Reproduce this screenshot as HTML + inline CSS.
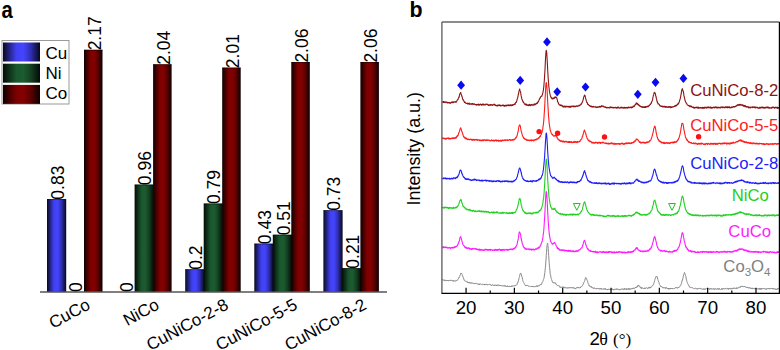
<!DOCTYPE html>
<html><head><meta charset="utf-8"><style>
html,body{margin:0;padding:0;background:#fff;width:780px;height:350px;overflow:hidden}
svg{display:block}
text{font-family:"Liberation Sans",sans-serif}
.serif{font-family:"Liberation Serif",serif}
.lab{font-size:23px;font-weight:bold}
.val{font-size:17.5px}
.cat{font-size:17px}
.leg{font-size:17px}
.tick{font-size:18.7px}
.ylab{font-size:17.9px}
.xlab{font-size:18.8px}
.rl{font-size:16.7px}
</style></head><body>
<svg width="780" height="350" viewBox="0 0 780 350">
<defs>
<linearGradient id="gCu" x1="0" x2="1" y1="0" y2="0"><stop offset="0" stop-color="#08081e"/><stop offset="0.16" stop-color="#22227f"/><stop offset="0.36" stop-color="#4040f2"/><stop offset="0.55" stop-color="#4444ff"/><stop offset="0.74" stop-color="#3030b7"/><stop offset="0.94" stop-color="#11113f"/><stop offset="1" stop-color="#060619"/></linearGradient>
<linearGradient id="gNi" x1="0" x2="1" y1="0" y2="0"><stop offset="0" stop-color="#030b05"/><stop offset="0.16" stop-color="#0e2e18"/><stop offset="0.36" stop-color="#1a572d"/><stop offset="0.55" stop-color="#1c5c30"/><stop offset="0.74" stop-color="#144222"/><stop offset="0.94" stop-color="#07170c"/><stop offset="1" stop-color="#020904"/></linearGradient>
<linearGradient id="gCo" x1="0" x2="1" y1="0" y2="0"><stop offset="0" stop-color="#0f0000"/><stop offset="0.16" stop-color="#420000"/><stop offset="0.36" stop-color="#7d0000"/><stop offset="0.55" stop-color="#840000"/><stop offset="0.74" stop-color="#5f0000"/><stop offset="0.94" stop-color="#210000"/><stop offset="1" stop-color="#0d0000"/></linearGradient>
</defs>
<text transform="translate(1.5,17.6) scale(0.88,1.0)" class="lab">a</text>
<rect x="47.00" y="199.04" width="19.20" height="92.46" fill="url(#gCu)"/>
<rect x="47.00" y="199.04" width="18.50" height="0.9" fill="#000" fill-opacity="0.45"/>
<text transform="translate(63.75,199.64) rotate(-90)" class="val">0.83</text>
<text transform="translate(82.25,292.10) rotate(-90)" class="val">0</text>
<rect x="84.00" y="49.76" width="18.50" height="241.74" fill="url(#gCo)"/>
<rect x="84.00" y="49.76" width="18.50" height="0.9" fill="#000" fill-opacity="0.45"/>
<text transform="translate(100.75,50.36) rotate(-90)" class="val">2.17</text>
<text transform="translate(91.25,308.2) rotate(-28.5)" class="cat" text-anchor="end">CuCo</text>
<text transform="translate(132.85,292.10) rotate(-90)" class="val">0</text>
<rect x="134.60" y="184.56" width="19.20" height="106.94" fill="url(#gNi)"/>
<rect x="134.60" y="184.56" width="18.50" height="0.9" fill="#000" fill-opacity="0.45"/>
<text transform="translate(151.35,185.16) rotate(-90)" class="val">0.96</text>
<rect x="153.10" y="64.24" width="18.50" height="227.26" fill="url(#gCo)"/>
<rect x="153.10" y="64.24" width="18.50" height="0.9" fill="#000" fill-opacity="0.45"/>
<text transform="translate(169.85,64.84) rotate(-90)" class="val">2.04</text>
<text transform="translate(160.35,308.2) rotate(-28.5)" class="cat" text-anchor="end">NiCo</text>
<rect x="185.20" y="269.22" width="19.20" height="22.28" fill="url(#gCu)"/>
<rect x="185.20" y="269.22" width="18.50" height="0.9" fill="#000" fill-opacity="0.45"/>
<text transform="translate(201.95,269.82) rotate(-90)" class="val">0.2</text>
<rect x="203.70" y="203.49" width="19.20" height="88.01" fill="url(#gNi)"/>
<rect x="203.70" y="203.49" width="18.50" height="0.9" fill="#000" fill-opacity="0.45"/>
<text transform="translate(220.45,204.09) rotate(-90)" class="val">0.79</text>
<rect x="222.20" y="67.59" width="18.50" height="223.91" fill="url(#gCo)"/>
<rect x="222.20" y="67.59" width="18.50" height="0.9" fill="#000" fill-opacity="0.45"/>
<text transform="translate(238.95,68.19) rotate(-90)" class="val">2.01</text>
<text transform="translate(229.45,308.2) rotate(-28.5)" class="cat" text-anchor="end">CuNiCo-2-8</text>
<rect x="254.30" y="243.60" width="19.20" height="47.90" fill="url(#gCu)"/>
<rect x="254.30" y="243.60" width="18.50" height="0.9" fill="#000" fill-opacity="0.45"/>
<text transform="translate(271.05,244.20) rotate(-90)" class="val">0.43</text>
<rect x="272.80" y="234.69" width="19.20" height="56.81" fill="url(#gNi)"/>
<rect x="272.80" y="234.69" width="18.50" height="0.9" fill="#000" fill-opacity="0.45"/>
<text transform="translate(289.55,235.29) rotate(-90)" class="val">0.51</text>
<rect x="291.30" y="62.02" width="18.50" height="229.48" fill="url(#gCo)"/>
<rect x="291.30" y="62.02" width="18.50" height="0.9" fill="#000" fill-opacity="0.45"/>
<text transform="translate(308.05,62.62) rotate(-90)" class="val">2.06</text>
<text transform="translate(298.55,308.2) rotate(-28.5)" class="cat" text-anchor="end">CuNiCo-5-5</text>
<rect x="323.40" y="210.18" width="19.20" height="81.32" fill="url(#gCu)"/>
<rect x="323.40" y="210.18" width="18.50" height="0.9" fill="#000" fill-opacity="0.45"/>
<text transform="translate(340.15,210.78) rotate(-90)" class="val">0.73</text>
<rect x="341.90" y="268.11" width="19.20" height="23.39" fill="url(#gNi)"/>
<rect x="341.90" y="268.11" width="18.50" height="0.9" fill="#000" fill-opacity="0.45"/>
<text transform="translate(358.65,268.71) rotate(-90)" class="val">0.21</text>
<rect x="360.40" y="62.02" width="18.50" height="229.48" fill="url(#gCo)"/>
<rect x="360.40" y="62.02" width="18.50" height="0.9" fill="#000" fill-opacity="0.45"/>
<text transform="translate(377.15,62.62) rotate(-90)" class="val">2.06</text>
<text transform="translate(367.65,308.2) rotate(-28.5)" class="cat" text-anchor="end">CuNiCo-8-2</text>
<line x1="40" y1="292.00" x2="387" y2="292.00" stroke="#000" stroke-width="1.2"/>
<rect x="2" y="40.5" width="67" height="63.5" fill="#fff" stroke="#999" stroke-width="1"/>
<rect x="3" y="42.50" width="37" height="19" fill="url(#gCu)"/>
<text x="45.5" y="58.60" class="leg">Cu</text>
<rect x="3" y="63.70" width="37" height="19" fill="url(#gNi)"/>
<text x="45.5" y="79.00" class="leg">Ni</text>
<rect x="3" y="84.90" width="37" height="19" fill="url(#gCo)"/>
<text x="45.5" y="99.10" class="leg">Co</text>
<polyline fill="none" stroke="#8c1414" stroke-width="1.1" stroke-linejoin="round" points="441.90,101.80 442.14,101.80 442.38,102.14 442.62,102.15 442.87,101.94 443.11,101.47 443.35,102.32 443.59,101.59 443.83,102.51 444.07,102.00 444.32,101.83 444.56,102.25 444.80,101.93 445.04,102.65 445.28,102.31 445.52,102.17 445.77,101.88 446.01,101.90 446.25,102.26 446.49,102.39 446.73,102.10 446.97,102.68 447.22,102.47 447.46,102.83 447.70,102.29 447.94,102.29 448.18,102.94 448.42,102.51 448.66,102.55 448.91,102.58 449.15,102.44 449.39,102.82 449.63,102.68 449.87,103.32 450.11,102.96 450.36,102.82 450.60,103.19 450.84,102.52 451.08,102.87 451.32,102.45 451.56,101.96 451.81,102.54 452.05,101.87 452.29,102.57 452.53,102.00 452.77,102.55 453.01,102.69 453.26,102.12 453.50,102.60 453.74,101.97 453.98,101.92 454.22,102.09 454.46,101.87 454.70,101.84 454.95,101.95 455.19,102.23 455.43,102.09 455.67,101.46 455.91,102.30 456.15,102.31 456.40,101.65 456.64,101.57 456.88,100.59 457.12,100.38 457.36,99.96 457.60,99.61 457.85,99.39 458.09,99.41 458.33,98.24 458.57,97.86 458.81,96.99 459.05,97.42 459.30,96.10 459.54,94.76 459.78,94.14 460.02,93.50 460.26,93.69 460.50,92.58 460.74,92.51 460.99,93.90 461.23,94.30 461.47,94.58 461.71,95.74 461.95,96.63 462.19,96.79 462.44,98.53 462.68,99.16 462.92,99.80 463.16,99.97 463.40,99.84 463.64,100.36 463.89,101.11 464.13,101.34 464.37,102.37 464.61,102.06 464.85,101.97 465.09,101.99 465.34,102.96 465.58,102.75 465.82,103.26 466.06,103.04 466.30,103.42 466.54,103.24 466.78,103.52 467.03,103.54 467.27,103.33 467.51,103.94 467.75,103.21 467.99,103.09 468.23,104.01 468.48,103.93 468.72,103.96 468.96,103.80 469.20,103.11 469.44,104.03 469.68,104.37 469.93,104.30 470.17,103.71 470.41,103.72 470.65,103.97 470.89,103.74 471.13,104.20 471.38,103.71 471.62,104.30 471.86,104.34 472.10,103.97 472.34,103.47 472.58,103.67 472.82,104.21 473.07,103.80 473.31,104.06 473.55,104.01 473.79,104.38 474.03,104.05 474.27,103.71 474.52,104.14 474.76,104.49 475.00,104.34 475.24,104.47 475.48,104.69 475.72,104.51 475.97,104.96 476.21,104.97 476.45,104.45 476.69,105.21 476.93,104.42 477.17,104.59 477.42,104.21 477.66,104.55 477.90,104.94 478.14,104.64 478.38,104.11 478.62,105.18 478.86,105.07 479.11,104.54 479.35,105.12 479.59,104.55 479.83,104.47 480.07,104.36 480.31,104.14 480.56,104.64 480.80,104.36 481.04,104.64 481.28,105.03 481.52,105.17 481.76,104.27 482.01,104.72 482.25,103.99 482.49,104.89 482.73,104.35 482.97,104.99 483.21,104.83 483.46,104.02 483.70,104.55 483.94,105.01 484.18,104.97 484.42,104.92 484.66,104.84 484.90,104.33 485.15,105.06 485.39,104.16 485.63,104.36 485.87,104.18 486.11,104.14 486.35,104.27 486.60,104.43 486.84,104.36 487.08,104.18 487.32,104.14 487.56,104.88 487.80,104.72 488.05,104.52 488.29,105.02 488.53,105.46 488.77,105.07 489.01,105.67 489.25,105.45 489.50,105.32 489.74,104.97 489.98,104.57 490.22,105.12 490.46,104.45 490.70,105.10 490.94,105.12 491.19,104.61 491.43,104.83 491.67,104.74 491.91,105.29 492.15,105.07 492.39,105.48 492.64,104.79 492.88,104.68 493.12,104.88 493.36,104.84 493.60,104.46 493.84,104.55 494.09,104.07 494.33,104.34 494.57,104.80 494.81,105.12 495.05,105.50 495.29,104.90 495.54,104.92 495.78,105.55 496.02,105.60 496.26,105.53 496.50,105.82 496.74,105.36 496.98,105.72 497.23,105.83 497.47,105.92 497.71,105.76 497.95,104.92 498.19,105.15 498.43,105.55 498.68,105.38 498.92,105.52 499.16,104.79 499.40,105.74 499.64,105.51 499.88,105.05 500.13,105.33 500.37,105.18 500.61,105.20 500.85,106.13 501.09,105.46 501.33,105.77 501.58,105.79 501.82,105.22 502.06,105.27 502.30,105.41 502.54,105.09 502.78,105.20 503.02,105.74 503.27,105.36 503.51,105.55 503.75,105.15 503.99,105.37 504.23,106.33 504.47,105.58 504.72,106.24 504.96,105.43 505.20,106.04 505.44,105.53 505.68,105.35 505.92,105.11 506.17,105.64 506.41,105.97 506.65,106.05 506.89,105.07 507.13,105.38 507.37,105.17 507.62,105.10 507.86,105.60 508.10,105.35 508.34,104.83 508.58,105.66 508.82,105.33 509.06,105.37 509.31,105.74 509.55,105.46 509.79,104.92 510.03,105.62 510.27,105.64 510.51,104.82 510.76,104.74 511.00,105.54 511.24,105.52 511.48,105.65 511.72,105.36 511.96,104.82 512.21,105.26 512.45,105.47 512.69,104.62 512.93,104.77 513.17,104.87 513.41,105.10 513.66,104.63 513.90,104.58 514.14,104.53 514.38,103.97 514.62,104.51 514.86,103.56 515.10,104.35 515.35,103.12 515.59,102.66 515.83,102.28 516.07,102.00 516.31,102.30 516.55,101.38 516.80,100.87 517.04,99.94 517.28,98.94 517.52,98.06 517.76,97.59 518.00,96.12 518.25,94.81 518.49,93.66 518.73,92.95 518.97,90.92 519.21,90.46 519.45,89.67 519.70,88.94 519.94,90.17 520.18,90.90 520.42,91.41 520.66,92.36 520.90,94.25 521.14,95.74 521.39,97.03 521.63,97.86 521.87,98.92 522.11,99.86 522.35,100.02 522.59,100.50 522.84,101.63 523.08,101.31 523.32,102.33 523.56,102.29 523.80,102.43 524.04,103.14 524.29,103.76 524.53,103.92 524.77,103.72 525.01,104.54 525.25,103.82 525.49,104.64 525.74,104.25 525.98,105.13 526.22,104.12 526.46,104.56 526.70,104.45 526.94,105.21 527.18,104.66 527.43,104.97 527.67,105.00 527.91,105.47 528.15,105.60 528.39,104.77 528.63,104.94 528.88,105.60 529.12,104.88 529.36,105.44 529.60,104.33 529.84,104.59 530.08,105.34 530.33,105.57 530.57,105.00 530.81,105.53 531.05,104.62 531.29,105.04 531.53,104.91 531.78,104.40 532.02,104.69 532.26,104.60 532.50,104.82 532.74,105.38 532.98,105.01 533.22,104.82 533.47,105.21 533.71,104.44 533.95,104.18 534.19,104.93 534.43,104.11 534.67,103.87 534.92,104.17 535.16,104.85 535.40,103.97 535.64,104.39 535.88,104.24 536.12,103.53 536.37,103.71 536.61,103.56 536.85,102.84 537.09,102.98 537.33,103.41 537.57,102.27 537.82,102.17 538.06,101.61 538.30,101.90 538.54,101.58 538.78,100.61 539.02,100.03 539.26,99.28 539.51,99.36 539.75,98.00 539.99,97.92 540.23,97.97 540.47,97.83 540.71,96.51 540.96,96.62 541.20,96.48 541.44,96.14 541.68,96.22 541.92,96.14 542.16,94.91 542.41,94.57 542.65,93.84 542.89,92.68 543.13,91.33 543.37,90.33 543.61,87.86 543.86,86.29 544.10,82.78 544.34,80.22 544.58,76.14 544.82,72.78 545.06,68.47 545.30,62.86 545.55,57.96 545.79,54.51 546.03,51.48 546.27,50.33 546.51,51.10 546.75,52.81 547.00,57.02 547.24,61.06 547.48,65.46 547.72,70.44 547.96,74.37 548.20,78.19 548.45,81.50 548.69,84.38 548.93,87.36 549.17,88.82 549.41,91.07 549.65,92.12 549.90,93.91 550.14,94.48 550.38,96.03 550.62,96.28 550.86,96.68 551.10,97.96 551.34,97.42 551.59,97.82 551.83,98.65 552.07,98.72 552.31,98.89 552.55,98.18 552.79,98.47 553.04,98.93 553.28,98.43 553.52,98.21 553.76,97.76 554.00,98.39 554.24,97.65 554.49,98.18 554.73,97.00 554.97,97.98 555.21,96.82 555.45,97.23 555.69,97.53 555.94,97.06 556.18,97.19 556.42,97.84 556.66,97.56 556.90,98.41 557.14,99.35 557.38,100.05 557.63,101.77 557.87,102.03 558.11,102.24 558.35,103.00 558.59,103.95 558.83,104.08 559.08,104.63 559.32,104.92 559.56,104.86 559.80,105.06 560.04,104.80 560.28,105.64 560.53,105.08 560.77,105.09 561.01,105.41 561.25,105.38 561.49,105.05 561.73,105.25 561.98,106.18 562.22,105.45 562.46,105.86 562.70,105.81 562.94,106.90 563.18,106.79 563.42,106.86 563.67,106.84 563.91,106.13 564.15,107.07 564.39,106.26 564.63,106.15 564.87,106.42 565.12,106.36 565.36,107.19 565.60,106.33 565.84,106.39 566.08,106.07 566.32,106.80 566.57,106.86 566.81,106.65 567.05,106.27 567.29,106.19 567.53,106.59 567.77,106.99 568.02,106.98 568.26,106.40 568.50,106.39 568.74,106.91 568.98,107.05 569.22,106.37 569.46,106.31 569.71,106.63 569.95,107.45 570.19,107.10 570.43,106.27 570.67,106.24 570.91,106.61 571.16,107.12 571.40,106.25 571.64,106.10 571.88,106.30 572.12,106.19 572.36,106.39 572.61,106.06 572.85,106.44 573.09,106.84 573.33,105.93 573.57,106.36 573.81,106.72 574.06,106.14 574.30,106.41 574.54,106.15 574.78,106.34 575.02,106.83 575.26,106.91 575.50,106.34 575.75,105.99 575.99,106.44 576.23,106.05 576.47,105.80 576.71,106.21 576.95,106.26 577.20,105.86 577.44,105.91 577.68,106.37 577.92,106.27 578.16,106.19 578.40,105.84 578.65,105.86 578.89,105.30 579.13,105.05 579.37,105.69 579.61,105.77 579.85,105.08 580.10,105.12 580.34,105.12 580.58,104.93 580.82,104.36 581.06,103.94 581.30,103.70 581.54,104.14 581.79,103.04 582.03,102.60 582.27,102.48 582.51,101.57 582.75,101.15 582.99,100.13 583.24,99.33 583.48,98.27 583.72,97.01 583.96,96.55 584.20,96.24 584.44,94.96 584.69,95.95 584.93,95.46 585.17,95.85 585.41,97.41 585.65,98.50 585.89,99.09 586.14,100.18 586.38,101.22 586.62,101.78 586.86,102.71 587.10,102.34 587.34,102.56 587.58,104.03 587.83,104.50 588.07,104.30 588.31,104.25 588.55,104.73 588.79,105.14 589.03,104.99 589.28,105.63 589.52,105.34 589.76,105.88 590.00,106.27 590.24,105.97 590.48,106.45 590.73,106.43 590.97,106.00 591.21,106.08 591.45,106.35 591.69,106.24 591.93,107.25 592.18,106.57 592.42,106.97 592.66,106.59 592.90,106.97 593.14,107.08 593.38,106.27 593.62,106.74 593.87,106.80 594.11,106.89 594.35,107.05 594.59,106.68 594.83,106.73 595.07,106.58 595.32,106.67 595.56,106.83 595.80,107.25 596.04,107.61 596.28,107.05 596.52,107.39 596.77,107.37 597.01,106.95 597.25,107.40 597.49,107.36 597.73,106.90 597.97,107.17 598.22,106.90 598.46,106.80 598.70,106.74 598.94,107.40 599.18,106.49 599.42,106.58 599.66,106.39 599.91,106.34 600.15,107.08 600.39,107.14 600.63,106.31 600.87,106.90 601.11,106.52 601.36,106.55 601.60,105.87 601.84,105.60 602.08,106.37 602.32,106.11 602.56,106.11 602.81,106.14 603.05,106.32 603.29,106.20 603.53,106.65 603.77,106.13 604.01,107.02 604.26,107.01 604.50,107.18 604.74,107.03 604.98,107.20 605.22,106.88 605.46,107.38 605.70,106.97 605.95,107.21 606.19,107.24 606.43,107.91 606.67,107.51 606.91,107.36 607.15,108.02 607.40,107.39 607.64,107.57 607.88,107.50 608.12,107.44 608.36,107.66 608.60,107.61 608.85,107.63 609.09,108.08 609.33,107.70 609.57,107.78 609.81,107.92 610.05,106.90 610.30,107.24 610.54,107.15 610.78,107.50 611.02,107.04 611.26,107.53 611.50,107.52 611.74,107.76 611.99,107.12 612.23,107.65 612.47,107.66 612.71,107.61 612.95,107.98 613.19,107.61 613.44,107.96 613.68,107.40 613.92,107.25 614.16,107.63 614.40,107.65 614.64,107.57 614.89,107.45 615.13,107.86 615.37,107.27 615.61,107.49 615.85,107.67 616.09,107.46 616.34,108.18 616.58,107.98 616.82,108.10 617.06,108.01 617.30,107.18 617.54,108.04 617.78,107.35 618.03,107.11 618.27,107.74 618.51,107.05 618.75,107.94 618.99,107.95 619.23,107.90 619.48,108.10 619.72,108.16 619.96,107.88 620.20,107.95 620.44,108.09 620.68,107.44 620.93,107.21 621.17,107.13 621.41,107.23 621.65,107.63 621.89,108.05 622.13,107.86 622.38,107.57 622.62,107.96 622.86,107.47 623.10,107.28 623.34,107.93 623.58,107.72 623.82,108.15 624.07,108.14 624.31,107.60 624.55,107.25 624.79,107.96 625.03,108.14 625.27,107.64 625.52,107.97 625.76,107.49 626.00,107.59 626.24,107.43 626.48,107.66 626.72,107.48 626.97,108.23 627.21,108.06 627.45,107.44 627.69,107.65 627.93,107.90 628.17,107.65 628.42,107.60 628.66,107.15 628.90,106.86 629.14,107.50 629.38,107.75 629.62,107.68 629.86,107.70 630.11,107.69 630.35,107.28 630.59,107.54 630.83,107.17 631.07,106.90 631.31,107.90 631.56,107.28 631.80,107.76 632.04,107.10 632.28,107.09 632.52,106.94 632.76,107.44 633.01,106.76 633.25,106.00 633.49,106.52 633.73,106.39 633.97,105.98 634.21,106.44 634.46,105.91 634.70,105.22 634.94,105.13 635.18,104.49 635.42,104.77 635.66,104.68 635.90,104.19 636.15,102.93 636.39,103.14 636.63,103.09 636.87,103.57 637.11,103.85 637.35,103.26 637.60,104.22 637.84,104.71 638.08,104.93 638.32,104.26 638.56,105.06 638.80,104.83 639.05,105.71 639.29,105.96 639.53,105.28 639.77,105.99 640.01,106.25 640.25,106.41 640.50,106.34 640.74,106.27 640.98,106.74 641.22,106.99 641.46,106.53 641.70,107.17 641.94,107.14 642.19,106.87 642.43,107.33 642.67,106.80 642.91,107.41 643.15,107.14 643.39,107.41 643.64,106.85 643.88,106.62 644.12,106.95 644.36,107.39 644.60,107.15 644.84,107.30 645.09,106.65 645.33,107.33 645.57,107.46 645.81,106.44 646.05,107.18 646.29,106.97 646.54,106.51 646.78,106.96 647.02,106.35 647.26,106.78 647.50,106.49 647.74,106.63 647.98,106.01 648.23,106.67 648.47,106.27 648.71,106.19 648.95,105.48 649.19,105.77 649.43,105.41 649.68,105.14 649.92,104.29 650.16,104.62 650.40,104.47 650.64,103.75 650.88,103.61 651.13,102.83 651.37,103.23 651.61,102.27 651.85,101.40 652.09,100.95 652.33,100.66 652.58,100.05 652.82,97.91 653.06,96.88 653.30,95.49 653.54,95.35 653.78,94.43 654.02,92.79 654.27,92.59 654.51,92.78 654.75,92.34 654.99,93.26 655.23,93.42 655.47,94.06 655.72,96.18 655.96,96.09 656.20,97.42 656.44,99.20 656.68,99.31 656.92,100.97 657.17,102.06 657.41,101.62 657.65,103.18 657.89,103.05 658.13,104.03 658.37,103.78 658.62,103.83 658.86,104.19 659.10,104.35 659.34,104.54 659.58,105.03 659.82,105.85 660.06,105.94 660.31,106.21 660.55,105.73 660.79,106.26 661.03,106.20 661.27,105.97 661.51,106.34 661.76,106.10 662.00,105.96 662.24,106.66 662.48,106.93 662.72,106.41 662.96,106.20 663.21,106.48 663.45,106.59 663.69,107.04 663.93,107.05 664.17,106.88 664.41,106.29 664.66,106.43 664.90,106.32 665.14,107.21 665.38,107.38 665.62,106.57 665.86,106.50 666.10,106.86 666.35,106.74 666.59,107.18 666.83,106.65 667.07,107.33 667.31,107.09 667.55,106.99 667.80,106.90 668.04,107.45 668.28,106.89 668.52,106.60 668.76,107.09 669.00,106.68 669.25,107.28 669.49,107.25 669.73,106.56 669.97,107.01 670.21,106.68 670.45,107.07 670.70,107.73 670.94,106.73 671.18,107.32 671.42,107.15 671.66,107.57 671.90,106.72 672.14,107.09 672.39,106.79 672.63,106.74 672.87,106.80 673.11,107.08 673.35,106.81 673.59,106.79 673.84,106.73 674.08,106.47 674.32,106.46 674.56,105.86 674.80,106.19 675.04,105.84 675.29,106.45 675.53,105.40 675.77,105.52 676.01,105.69 676.25,105.55 676.49,105.05 676.74,105.71 676.98,104.70 677.22,104.93 677.46,104.22 677.70,103.97 677.94,104.52 678.18,103.76 678.43,103.04 678.67,103.58 678.91,102.45 679.15,102.11 679.39,101.85 679.63,100.52 679.88,99.54 680.12,99.26 680.36,98.23 680.60,97.08 680.84,95.27 681.08,94.57 681.33,92.58 681.57,91.31 681.81,89.91 682.05,89.55 682.29,88.54 682.53,89.42 682.78,89.82 683.02,90.96 683.26,91.19 683.50,92.67 683.74,94.01 683.98,96.00 684.22,96.51 684.47,97.85 684.71,98.88 684.95,100.12 685.19,100.75 685.43,101.57 685.67,102.07 685.92,102.30 686.16,102.65 686.40,103.34 686.64,103.49 686.88,104.05 687.12,104.59 687.37,104.95 687.61,105.15 687.85,105.20 688.09,105.36 688.33,105.22 688.57,105.59 688.82,105.80 689.06,105.52 689.30,105.70 689.54,106.12 689.78,106.70 690.02,106.51 690.26,105.72 690.51,106.38 690.75,106.25 690.99,106.72 691.23,106.11 691.47,106.95 691.71,106.45 691.96,106.85 692.20,107.16 692.44,106.98 692.68,107.36 692.92,107.18 693.16,107.55 693.41,107.06 693.65,107.03 693.89,107.73 694.13,108.10 694.37,107.49 694.61,108.06 694.86,107.52 695.10,107.55 695.34,107.42 695.58,107.64 695.82,107.32 696.06,107.99 696.30,107.52 696.55,107.24 696.79,107.41 697.03,106.93 697.27,107.36 697.51,108.04 697.75,107.49 698.00,108.19 698.24,107.03 698.48,107.55 698.72,108.01 698.96,108.24 699.20,107.70 699.45,107.61 699.69,107.76 699.93,108.08 700.17,107.68 700.41,107.36 700.65,107.54 700.90,107.93 701.14,107.68 701.38,107.80 701.62,107.66 701.86,108.15 702.10,107.46 702.34,108.18 702.59,107.37 702.83,108.12 703.07,108.52 703.31,107.98 703.55,107.65 703.79,107.85 704.04,107.35 704.28,107.85 704.52,108.22 704.76,107.21 705.00,107.99 705.24,107.81 705.49,107.21 705.73,107.68 705.97,107.32 706.21,107.71 706.45,107.73 706.69,108.14 706.94,107.53 707.18,107.12 707.42,107.18 707.66,107.12 707.90,107.87 708.14,107.92 708.38,106.90 708.63,107.37 708.87,107.50 709.11,107.28 709.35,107.86 709.59,107.32 709.83,107.37 710.08,107.79 710.32,107.94 710.56,107.58 710.80,106.89 711.04,107.98 711.28,107.97 711.53,107.45 711.77,108.21 712.01,108.19 712.25,107.48 712.49,107.39 712.73,108.03 712.98,107.94 713.22,107.18 713.46,107.16 713.70,107.47 713.94,107.29 714.18,107.60 714.42,107.20 714.67,107.90 714.91,107.22 715.15,107.18 715.39,106.85 715.63,107.29 715.87,107.60 716.12,107.01 716.36,107.04 716.60,107.83 716.84,107.22 717.08,107.80 717.32,108.03 717.57,107.93 717.81,107.17 718.05,107.07 718.29,107.31 718.53,107.83 718.77,107.39 719.02,107.39 719.26,107.41 719.50,107.85 719.74,107.99 719.98,107.81 720.22,107.45 720.46,107.16 720.71,107.88 720.95,107.63 721.19,107.40 721.43,107.32 721.67,106.81 721.91,106.97 722.16,107.42 722.40,107.06 722.64,107.67 722.88,107.94 723.12,107.16 723.36,107.46 723.61,107.20 723.85,107.54 724.09,107.18 724.33,107.43 724.57,107.28 724.81,107.93 725.06,107.80 725.30,106.88 725.54,106.95 725.78,107.11 726.02,106.90 726.26,106.86 726.50,107.45 726.75,107.19 726.99,107.63 727.23,106.82 727.47,107.80 727.71,106.90 727.95,107.64 728.20,107.06 728.44,107.52 728.68,107.57 728.92,106.77 729.16,107.19 729.40,107.75 729.65,106.84 729.89,107.35 730.13,107.76 730.37,107.94 730.61,107.51 730.85,107.55 731.10,107.28 731.34,106.97 731.58,106.92 731.82,107.76 732.06,107.31 732.30,107.52 732.54,107.03 732.79,106.91 733.03,106.65 733.27,106.46 733.51,107.08 733.75,106.46 733.99,106.65 734.24,106.65 734.48,107.09 734.72,106.54 734.96,106.71 735.20,106.62 735.44,106.34 735.69,106.11 735.93,106.55 736.17,105.74 736.41,105.54 736.65,105.40 736.89,105.71 737.14,105.01 737.38,105.29 737.62,104.86 737.86,104.49 738.10,105.45 738.34,105.21 738.58,105.17 738.83,104.88 739.07,104.48 739.31,104.26 739.55,105.08 739.79,105.39 740.03,104.65 740.28,104.40 740.52,104.93 740.76,104.56 741.00,104.85 741.24,105.34 741.48,105.12 741.73,105.27 741.97,104.66 742.21,105.01 742.45,105.29 742.69,105.64 742.93,104.77 743.18,105.56 743.42,105.86 743.66,106.36 743.90,105.94 744.14,105.67 744.38,105.54 744.62,105.79 744.87,106.72 745.11,105.63 745.35,105.86 745.59,105.83 745.83,106.96 746.07,106.64 746.32,106.86 746.56,106.64 746.80,106.65 747.04,107.19 747.28,106.65 747.52,106.90 747.77,106.85 748.01,106.47 748.25,106.87 748.49,107.58 748.73,107.80 748.97,107.58 749.22,107.05 749.46,107.69 749.70,107.54 749.94,107.59 750.18,107.41 750.42,107.96 750.66,107.00 750.91,107.36 751.15,107.45 751.39,107.34 751.63,107.28 751.87,107.19 752.11,106.84 752.36,107.43 752.60,107.65 752.84,106.76 753.08,106.99 753.32,107.36 753.56,107.31 753.81,107.15 754.05,106.77 754.29,106.78 754.53,107.67 754.77,107.57 755.01,107.04 755.26,107.90 755.50,107.86 755.74,107.11 755.98,107.73 756.22,107.35 756.46,107.34 756.70,107.56 756.95,107.61 757.19,107.20 757.43,107.44 757.67,107.81 757.91,107.88 758.15,108.34 758.40,108.04 758.64,107.98 758.88,108.11 759.12,107.46 759.36,108.18 759.60,107.26 759.85,107.34 760.09,108.12 760.33,108.09 760.57,107.42 760.81,107.52 761.05,107.80 761.30,107.04 761.54,107.77 761.78,107.42 762.02,107.54 762.26,106.95 762.50,107.57 762.74,107.96 762.99,107.26 763.23,107.34 763.47,108.13 763.71,107.31 763.95,108.04 764.19,107.63 764.44,107.36 764.68,107.74 764.92,108.09 765.16,107.58 765.40,108.09 765.64,107.20 765.89,107.43 766.13,107.67 766.37,107.40 766.61,107.49 766.85,106.87 767.09,107.96 767.34,106.92 767.58,107.18 767.82,107.39 768.06,107.43 768.30,107.92 768.54,107.13 768.78,107.97 769.03,108.11 769.27,107.99 769.51,107.54 769.75,108.29 769.99,108.21 770.23,108.19 770.48,107.97 770.72,107.81 770.96,107.85 771.20,107.58 771.44,108.23 771.68,107.54 771.93,107.31 772.17,107.17 772.41,107.82 772.65,107.38 772.89,107.29 773.13,106.95 773.38,107.19 773.62,107.59 773.86,107.54 774.10,107.96 774.34,107.35 774.58,108.27 774.82,107.98 775.07,108.07 775.31,107.50 775.55,107.45 775.79,107.09 776.03,107.26 776.27,107.31 776.52,107.27 776.76,108.06 777.00,107.39 777.24,108.32 777.48,107.37 777.72,108.34 777.97,107.45 778.21,107.76 778.45,108.01 778.69,107.67 778.93,108.16 779.17,107.82 779.42,107.78 779.66,107.67 779.90,107.74 780.14,107.55"/>
<polyline fill="none" stroke="#ff1c1c" stroke-width="1.1" stroke-linejoin="round" points="441.90,138.02 442.14,137.74 442.38,138.51 442.62,138.11 442.87,138.85 443.11,138.05 443.35,137.96 443.59,138.00 443.83,138.47 444.07,138.64 444.32,138.71 444.56,138.37 444.80,138.35 445.04,138.96 445.28,138.52 445.52,139.31 445.77,138.47 446.01,139.16 446.25,137.97 446.49,138.66 446.73,138.43 446.97,138.44 447.22,138.34 447.46,138.17 447.70,138.40 447.94,138.08 448.18,138.45 448.42,138.09 448.66,139.00 448.91,137.89 449.15,138.23 449.39,138.68 449.63,138.52 449.87,138.72 450.11,139.10 450.36,138.74 450.60,138.48 450.84,138.70 451.08,138.22 451.32,138.62 451.56,138.49 451.81,137.97 452.05,138.10 452.29,137.77 452.53,138.37 452.77,138.69 453.01,138.13 453.26,138.34 453.50,137.84 453.74,138.53 453.98,137.88 454.22,138.47 454.46,138.09 454.70,137.84 454.95,138.30 455.19,138.14 455.43,137.92 455.67,137.32 455.91,138.24 456.15,136.96 456.40,137.71 456.64,137.30 456.88,136.82 457.12,135.86 457.36,135.63 457.60,136.19 457.85,135.89 458.09,134.71 458.33,134.93 458.57,133.58 458.81,133.12 459.05,132.21 459.30,132.21 459.54,131.21 459.78,129.86 460.02,128.99 460.26,128.67 460.50,128.37 460.74,127.77 460.99,128.51 461.23,129.13 461.47,130.48 461.71,131.24 461.95,131.43 462.19,132.09 462.44,133.22 462.68,134.00 462.92,134.03 463.16,135.41 463.40,135.82 463.64,136.81 463.89,137.03 464.13,136.86 464.37,137.82 464.61,137.37 464.85,137.28 465.09,137.50 465.34,138.69 465.58,138.38 465.82,138.04 466.06,137.91 466.30,138.89 466.54,138.32 466.78,138.75 467.03,139.09 467.27,139.52 467.51,139.14 467.75,139.08 467.99,139.69 468.23,139.23 468.48,139.09 468.72,139.22 468.96,139.49 469.20,139.26 469.44,139.56 469.68,139.54 469.93,139.81 470.17,139.63 470.41,139.40 470.65,138.97 470.89,139.60 471.13,139.62 471.38,139.44 471.62,139.96 471.86,139.77 472.10,140.19 472.34,139.39 472.58,140.21 472.82,139.54 473.07,139.54 473.31,139.52 473.55,139.85 473.79,139.36 474.03,140.34 474.27,139.83 474.52,140.22 474.76,139.61 475.00,139.92 475.24,139.77 475.48,139.83 475.72,139.44 475.97,139.95 476.21,139.38 476.45,139.61 476.69,139.54 476.93,139.53 477.17,140.43 477.42,139.85 477.66,140.19 477.90,139.51 478.14,139.86 478.38,139.87 478.62,140.23 478.86,140.02 479.11,140.22 479.35,139.95 479.59,140.67 479.83,140.53 480.07,139.78 480.31,140.20 480.56,140.31 480.80,140.72 481.04,140.33 481.28,140.17 481.52,140.23 481.76,140.73 482.01,140.25 482.25,140.62 482.49,140.58 482.73,139.76 482.97,140.38 483.21,140.71 483.46,139.94 483.70,140.44 483.94,139.52 484.18,140.18 484.42,140.17 484.66,140.08 484.90,140.17 485.15,140.07 485.39,140.56 485.63,139.97 485.87,140.31 486.11,140.65 486.35,139.80 486.60,139.76 486.84,140.27 487.08,140.14 487.32,139.87 487.56,140.59 487.80,140.13 488.05,139.79 488.29,140.17 488.53,140.29 488.77,140.20 489.01,140.13 489.25,140.66 489.50,140.20 489.74,140.31 489.98,140.24 490.22,140.67 490.46,140.51 490.70,140.51 490.94,140.87 491.19,140.79 491.43,140.15 491.67,139.81 491.91,139.98 492.15,140.14 492.39,140.70 492.64,140.71 492.88,140.93 493.12,140.30 493.36,140.33 493.60,140.51 493.84,140.19 494.09,141.20 494.33,140.82 494.57,140.98 494.81,140.21 495.05,140.63 495.29,140.63 495.54,139.93 495.78,140.09 496.02,139.96 496.26,140.32 496.50,140.25 496.74,141.25 496.98,140.14 497.23,140.74 497.47,140.53 497.71,140.30 497.95,140.37 498.19,140.10 498.43,140.22 498.68,141.32 498.92,140.92 499.16,140.60 499.40,140.82 499.64,140.48 499.88,141.27 500.13,140.90 500.37,140.26 500.61,140.99 500.85,140.37 501.09,140.29 501.33,141.31 501.58,141.19 501.82,140.24 502.06,140.59 502.30,140.80 502.54,140.73 502.78,139.89 503.02,139.96 503.27,140.76 503.51,140.44 503.75,140.34 503.99,140.37 504.23,140.20 504.47,139.98 504.72,139.87 504.96,140.64 505.20,140.52 505.44,140.31 505.68,139.77 505.92,139.97 506.17,140.44 506.41,140.23 506.65,140.21 506.89,140.06 507.13,140.02 507.37,139.65 507.62,140.42 507.86,140.49 508.10,140.42 508.34,140.30 508.58,140.26 508.82,140.27 509.06,139.64 509.31,139.66 509.55,139.62 509.79,139.58 510.03,139.78 510.27,140.42 510.51,139.69 510.76,140.17 511.00,139.71 511.24,140.42 511.48,140.09 511.72,140.26 511.96,139.82 512.21,140.31 512.45,139.78 512.69,140.28 512.93,139.59 513.17,139.41 513.41,139.27 513.66,139.94 513.90,139.81 514.14,139.33 514.38,139.72 514.62,139.32 514.86,138.98 515.10,139.06 515.35,138.56 515.59,137.61 515.83,138.03 516.07,137.13 516.31,137.67 516.55,137.05 516.80,136.59 517.04,135.48 517.28,135.13 517.52,133.77 517.76,133.10 518.00,131.58 518.25,131.15 518.49,129.70 518.73,127.51 518.97,126.27 519.21,125.96 519.45,125.12 519.70,124.92 519.94,125.15 520.18,126.13 520.42,126.27 520.66,128.33 520.90,129.27 521.14,130.88 521.39,131.55 521.63,132.06 521.87,133.53 522.11,134.48 522.35,134.91 522.59,136.22 522.84,136.24 523.08,136.56 523.32,137.27 523.56,138.10 523.80,138.14 524.04,138.42 524.29,137.98 524.53,138.50 524.77,139.18 525.01,139.41 525.25,139.09 525.49,139.41 525.74,139.34 525.98,139.49 526.22,139.37 526.46,140.33 526.70,140.21 526.94,139.67 527.18,139.81 527.43,139.97 527.67,140.42 527.91,140.32 528.15,140.14 528.39,140.53 528.63,140.19 528.88,139.97 529.12,140.33 529.36,140.31 529.60,140.78 529.84,140.47 530.08,140.25 530.33,140.46 530.57,140.58 530.81,139.89 531.05,139.91 531.29,140.89 531.53,140.38 531.78,139.79 532.02,140.50 532.26,140.01 532.50,140.09 532.74,140.20 532.98,140.58 533.22,140.65 533.47,140.83 533.71,140.53 533.95,139.79 534.19,140.48 534.43,139.99 534.67,139.96 534.92,139.64 535.16,139.64 535.40,139.34 535.64,139.54 535.88,140.26 536.12,139.32 536.37,139.25 536.61,139.32 536.85,138.86 537.09,138.85 537.33,138.77 537.57,139.22 537.82,138.97 538.06,138.80 538.30,137.86 538.54,138.11 538.78,138.13 539.02,137.54 539.26,137.92 539.51,136.95 539.75,136.65 539.99,136.17 540.23,136.49 540.47,136.43 540.71,135.13 540.96,134.84 541.20,134.57 541.44,134.09 541.68,132.73 541.92,132.75 542.16,131.61 542.41,130.33 542.65,129.63 542.89,127.72 543.13,126.08 543.37,124.54 543.61,121.87 543.86,119.68 544.10,115.84 544.34,112.26 544.58,108.82 544.82,104.23 545.06,99.51 545.30,94.94 545.55,90.45 545.79,86.18 546.03,83.27 546.27,82.59 546.51,83.09 546.75,85.37 547.00,88.55 547.24,92.89 547.48,96.94 547.72,102.55 547.96,106.29 548.20,110.17 548.45,114.89 548.69,117.55 548.93,120.10 549.17,122.88 549.41,125.07 549.65,126.31 549.90,127.85 550.14,129.58 550.38,130.55 550.62,130.72 550.86,131.74 551.10,132.64 551.34,133.40 551.59,133.88 551.83,134.12 552.07,134.59 552.31,134.46 552.55,134.26 552.79,135.28 553.04,135.16 553.28,135.52 553.52,135.84 553.76,136.05 554.00,135.74 554.24,135.63 554.49,135.65 554.73,136.20 554.97,135.99 555.21,135.60 555.45,135.65 555.69,136.04 555.94,135.76 556.18,136.01 556.42,135.52 556.66,136.30 556.90,137.01 557.14,137.93 557.38,138.34 557.63,138.12 557.87,139.14 558.11,139.38 558.35,139.33 558.59,139.81 558.83,139.89 559.08,139.78 559.32,140.71 559.56,140.50 559.80,140.10 560.04,140.85 560.28,141.21 560.53,141.27 560.77,141.37 561.01,140.53 561.25,141.09 561.49,140.78 561.73,141.42 561.98,141.64 562.22,141.33 562.46,141.40 562.70,142.05 562.94,141.02 563.18,141.58 563.42,140.95 563.67,141.98 563.91,141.17 564.15,141.88 564.39,141.50 564.63,142.20 564.87,141.95 565.12,141.43 565.36,141.76 565.60,141.86 565.84,141.33 566.08,141.79 566.32,142.03 566.57,141.34 566.81,141.44 567.05,141.83 567.29,142.26 567.53,142.10 567.77,142.00 568.02,142.36 568.26,141.50 568.50,142.44 568.74,141.72 568.98,142.35 569.22,142.33 569.46,141.46 569.71,142.45 569.95,141.46 570.19,142.37 570.43,142.02 570.67,142.19 570.91,141.95 571.16,141.55 571.40,141.75 571.64,142.58 571.88,142.55 572.12,142.10 572.36,142.27 572.61,142.58 572.85,142.33 573.09,142.35 573.33,142.15 573.57,142.40 573.81,141.43 574.06,141.73 574.30,141.40 574.54,141.52 574.78,142.51 575.02,141.71 575.26,141.83 575.50,141.67 575.75,142.29 575.99,141.69 576.23,142.56 576.47,141.80 576.71,141.90 576.95,141.76 577.20,142.63 577.44,141.57 577.68,141.43 577.92,141.96 578.16,141.72 578.40,141.76 578.65,142.05 578.89,141.88 579.13,141.94 579.37,140.96 579.61,141.73 579.85,141.52 580.10,141.25 580.34,140.73 580.58,139.93 580.82,139.62 581.06,139.28 581.30,139.33 581.54,139.16 581.79,139.00 582.03,137.67 582.27,137.02 582.51,135.88 582.75,135.96 582.99,134.82 583.24,134.11 583.48,132.87 583.72,132.15 583.96,131.13 584.20,130.48 584.44,130.03 584.69,130.68 584.93,131.42 585.17,132.02 585.41,132.99 585.65,132.93 585.89,134.58 586.14,134.64 586.38,136.43 586.62,136.53 586.86,137.62 587.10,138.43 587.34,138.35 587.58,139.16 587.83,139.05 588.07,140.06 588.31,140.44 588.55,140.81 588.79,140.29 589.03,140.31 589.28,140.62 589.52,141.07 589.76,141.66 590.00,141.81 590.24,141.11 590.48,141.52 590.73,141.77 590.97,141.58 591.21,142.10 591.45,141.94 591.69,142.31 591.93,143.09 592.18,142.57 592.42,142.29 592.66,142.43 592.90,142.97 593.14,142.57 593.38,142.35 593.62,142.85 593.87,143.10 594.11,142.44 594.35,143.13 594.59,143.16 594.83,142.89 595.07,142.89 595.32,142.40 595.56,142.20 595.80,142.93 596.04,142.46 596.28,142.45 596.52,142.38 596.77,142.56 597.01,142.78 597.25,142.48 597.49,143.42 597.73,142.44 597.97,142.52 598.22,143.18 598.46,142.39 598.70,142.47 598.94,142.69 599.18,142.17 599.42,142.60 599.66,142.89 599.91,142.37 600.15,142.85 600.39,143.41 600.63,142.57 600.87,143.12 601.11,142.56 601.36,142.67 601.60,142.50 601.84,142.82 602.08,142.41 602.32,142.61 602.56,142.84 602.81,142.19 603.05,142.79 603.29,142.17 603.53,142.82 603.77,142.65 604.01,142.88 604.26,142.81 604.50,143.09 604.74,143.20 604.98,143.38 605.22,143.15 605.46,143.11 605.70,143.48 605.95,143.08 606.19,142.93 606.43,143.04 606.67,143.62 606.91,143.89 607.15,143.60 607.40,143.75 607.64,143.19 607.88,143.78 608.12,143.88 608.36,143.12 608.60,143.26 608.85,143.73 609.09,144.18 609.33,143.51 609.57,143.76 609.81,143.28 610.05,143.71 610.30,143.35 610.54,143.17 610.78,143.56 611.02,142.98 611.26,143.70 611.50,142.75 611.74,143.34 611.99,142.97 612.23,143.04 612.47,143.44 612.71,143.92 612.95,143.99 613.19,143.52 613.44,143.83 613.68,144.20 613.92,143.07 614.16,143.32 614.40,144.15 614.64,143.75 614.89,144.19 615.13,143.90 615.37,143.45 615.61,143.88 615.85,144.33 616.09,143.70 616.34,144.28 616.58,143.50 616.82,143.64 617.06,143.64 617.30,143.98 617.54,143.89 617.78,143.66 618.03,144.09 618.27,143.55 618.51,143.90 618.75,143.38 618.99,144.21 619.23,143.70 619.48,143.61 619.72,144.38 619.96,143.70 620.20,143.88 620.44,144.34 620.68,143.56 620.93,143.48 621.17,143.17 621.41,143.47 621.65,143.52 621.89,143.71 622.13,143.81 622.38,143.22 622.62,143.06 622.86,143.29 623.10,144.13 623.34,144.09 623.58,143.92 623.82,144.34 624.07,143.98 624.31,143.34 624.55,143.84 624.79,144.26 625.03,143.51 625.27,143.67 625.52,143.46 625.76,143.00 626.00,143.65 626.24,142.98 626.48,143.46 626.72,142.93 626.97,143.81 627.21,143.14 627.45,143.49 627.69,143.32 627.93,143.14 628.17,142.80 628.42,142.71 628.66,143.46 628.90,143.50 629.14,143.12 629.38,142.95 629.62,143.52 629.86,142.88 630.11,143.20 630.35,143.08 630.59,143.78 630.83,143.34 631.07,143.33 631.31,143.51 631.56,142.60 631.80,143.14 632.04,142.54 632.28,142.43 632.52,142.56 632.76,142.59 633.01,142.85 633.25,142.58 633.49,141.90 633.73,142.29 633.97,142.42 634.21,141.50 634.46,141.32 634.70,140.93 634.94,141.46 635.18,141.41 635.42,140.51 635.66,140.57 635.90,140.00 636.15,138.99 636.39,138.95 636.63,139.81 636.87,139.02 637.11,139.30 637.35,139.33 637.60,139.83 637.84,139.73 638.08,140.16 638.32,140.32 638.56,140.64 638.80,141.12 639.05,141.77 639.29,141.58 639.53,142.47 639.77,141.74 640.01,142.44 640.25,141.81 640.50,143.05 640.74,142.49 640.98,142.42 641.22,142.82 641.46,142.64 641.70,142.49 641.94,143.03 642.19,142.20 642.43,142.21 642.67,142.05 642.91,142.50 643.15,142.29 643.39,142.86 643.64,142.41 643.88,142.21 644.12,142.29 644.36,142.90 644.60,143.23 644.84,143.27 645.09,142.55 645.33,142.98 645.57,142.39 645.81,143.15 646.05,142.81 646.29,142.11 646.54,142.25 646.78,142.05 647.02,142.32 647.26,142.58 647.50,141.84 647.74,142.43 647.98,142.21 648.23,142.13 648.47,142.22 648.71,141.63 648.95,142.13 649.19,141.34 649.43,141.07 649.68,140.54 649.92,141.07 650.16,140.47 650.40,140.43 650.64,140.14 650.88,139.91 651.13,139.24 651.37,138.22 651.61,137.75 651.85,136.84 652.09,136.21 652.33,135.37 652.58,134.98 652.82,133.17 653.06,132.73 653.30,131.39 653.54,130.17 653.78,128.56 654.02,127.88 654.27,127.39 654.51,126.36 654.75,126.07 654.99,126.40 655.23,127.53 655.47,128.23 655.72,129.64 655.96,131.07 656.20,133.00 656.44,133.72 656.68,134.74 656.92,136.12 657.17,137.04 657.41,136.97 657.65,138.46 657.89,138.66 658.13,139.57 658.37,139.33 658.62,139.83 658.86,140.71 659.10,141.09 659.34,140.82 659.58,141.19 659.82,140.71 660.06,141.72 660.31,141.50 660.55,141.97 660.79,141.64 661.03,142.74 661.27,142.12 661.51,142.88 661.76,142.14 662.00,142.62 662.24,142.38 662.48,142.60 662.72,142.86 662.96,142.70 663.21,142.44 663.45,143.02 663.69,143.47 663.93,143.47 664.17,142.38 664.41,143.36 664.66,143.59 664.90,143.57 665.14,142.72 665.38,143.49 665.62,143.23 665.86,142.78 666.10,143.02 666.35,142.56 666.59,142.67 666.83,143.24 667.07,142.62 667.31,142.57 667.55,143.43 667.80,142.99 668.04,143.28 668.28,143.32 668.52,143.37 668.76,142.67 669.00,143.24 669.25,142.64 669.49,143.40 669.73,143.00 669.97,143.63 670.21,143.29 670.45,142.56 670.70,142.67 670.94,142.61 671.18,142.40 671.42,142.23 671.66,142.54 671.90,142.42 672.14,142.98 672.39,142.97 672.63,142.15 672.87,142.13 673.11,141.92 673.35,142.97 673.59,142.24 673.84,142.18 674.08,142.26 674.32,142.61 674.56,141.65 674.80,142.51 675.04,142.26 675.29,142.07 675.53,141.81 675.77,142.11 676.01,142.36 676.25,141.43 676.49,141.86 676.74,141.57 676.98,141.58 677.22,140.77 677.46,140.07 677.70,140.68 677.94,139.64 678.18,139.46 678.43,139.43 678.67,138.49 678.91,138.22 679.15,137.22 679.39,136.75 679.63,135.63 679.88,134.76 680.12,134.22 680.36,132.35 680.60,131.59 680.84,129.94 681.08,127.79 681.33,126.90 681.57,124.82 681.81,123.58 682.05,123.37 682.29,123.35 682.53,123.37 682.78,123.70 683.02,123.79 683.26,125.83 683.50,126.34 683.74,128.69 683.98,130.43 684.22,130.65 684.47,131.81 684.71,133.79 684.95,134.23 685.19,135.60 685.43,136.96 685.67,137.70 685.92,137.72 686.16,138.07 686.40,139.62 686.64,139.25 686.88,139.49 687.12,140.43 687.37,140.37 687.61,140.19 687.85,141.26 688.09,141.15 688.33,141.65 688.57,141.53 688.82,142.35 689.06,142.28 689.30,141.81 689.54,142.44 689.78,142.48 690.02,142.38 690.26,142.60 690.51,142.53 690.75,142.73 690.99,143.03 691.23,143.25 691.47,142.67 691.71,142.62 691.96,143.38 692.20,143.54 692.44,143.58 692.68,143.57 692.92,143.33 693.16,143.49 693.41,142.88 693.65,142.85 693.89,143.76 694.13,143.62 694.37,143.82 694.61,143.33 694.86,143.12 695.10,143.21 695.34,143.12 695.58,143.60 695.82,143.45 696.06,143.93 696.30,143.58 696.55,143.34 696.79,143.45 697.03,144.09 697.27,144.32 697.51,143.80 697.75,144.09 698.00,144.16 698.24,144.19 698.48,143.25 698.72,143.36 698.96,143.30 699.20,143.99 699.45,143.58 699.69,143.84 699.93,144.19 700.17,143.62 700.41,143.88 700.65,143.15 700.90,143.61 701.14,143.98 701.38,144.14 701.62,143.15 701.86,143.27 702.10,143.57 702.34,143.16 702.59,143.68 702.83,143.54 703.07,143.64 703.31,144.18 703.55,144.47 703.79,144.19 704.04,144.15 704.28,144.45 704.52,144.26 704.76,143.81 705.00,144.39 705.24,144.62 705.49,144.17 705.73,143.85 705.97,143.40 706.21,143.77 706.45,143.55 706.69,144.01 706.94,143.38 707.18,143.75 707.42,144.57 707.66,143.95 707.90,143.89 708.14,143.79 708.38,143.46 708.63,143.41 708.87,143.78 709.11,144.08 709.35,144.31 709.59,143.90 709.83,144.16 710.08,144.00 710.32,144.31 710.56,144.22 710.80,143.01 711.04,143.28 711.28,143.21 711.53,143.96 711.77,144.31 712.01,144.20 712.25,143.50 712.49,143.76 712.73,143.79 712.98,143.45 713.22,144.37 713.46,144.29 713.70,143.40 713.94,143.98 714.18,143.97 714.42,143.87 714.67,143.31 714.91,143.61 715.15,143.31 715.39,144.43 715.63,144.01 715.87,143.27 716.12,143.80 716.36,144.35 716.60,144.11 716.84,143.62 717.08,144.10 717.32,144.39 717.57,143.43 717.81,143.30 718.05,144.06 718.29,143.61 718.53,143.72 718.77,143.68 719.02,142.99 719.26,143.19 719.50,143.33 719.74,143.46 719.98,143.57 720.22,143.39 720.46,143.38 720.71,144.12 720.95,143.73 721.19,143.99 721.43,143.26 721.67,143.39 721.91,143.60 722.16,143.24 722.40,143.96 722.64,143.04 722.88,143.19 723.12,143.80 723.36,143.19 723.61,142.99 723.85,143.73 724.09,143.59 724.33,143.32 724.57,142.86 724.81,143.67 725.06,143.09 725.30,143.46 725.54,143.15 725.78,143.19 726.02,143.50 726.26,143.03 726.50,144.10 726.75,143.23 726.99,143.25 727.23,143.71 727.47,143.10 727.71,143.36 727.95,143.97 728.20,143.35 728.44,143.01 728.68,143.41 728.92,143.29 729.16,143.99 729.40,143.19 729.65,143.12 729.89,143.77 730.13,144.05 730.37,143.55 730.61,142.97 730.85,142.80 731.10,143.53 731.34,143.41 731.58,143.34 731.82,143.53 732.06,142.42 732.30,143.05 732.54,143.08 732.79,143.18 733.03,142.41 733.27,142.94 733.51,142.03 733.75,142.88 733.99,142.43 734.24,143.04 734.48,142.87 734.72,143.00 734.96,142.94 735.20,142.63 735.44,142.30 735.69,142.32 735.93,141.92 736.17,142.03 736.41,141.83 736.65,141.52 736.89,141.51 737.14,141.95 737.38,141.70 737.62,141.91 737.86,141.18 738.10,141.00 738.34,141.42 738.58,141.20 738.83,140.68 739.07,140.38 739.31,140.75 739.55,140.18 739.79,140.67 740.03,140.58 740.28,140.63 740.52,139.85 740.76,139.79 741.00,140.54 741.24,141.12 741.48,140.45 741.73,140.30 741.97,141.17 742.21,140.82 742.45,140.94 742.69,141.56 742.93,141.75 743.18,141.32 743.42,141.94 743.66,141.03 743.90,141.92 744.14,141.52 744.38,142.37 744.62,141.66 744.87,142.04 745.11,142.56 745.35,142.07 745.59,142.04 745.83,142.09 746.07,141.74 746.32,142.62 746.56,142.57 746.80,142.17 747.04,142.62 747.28,142.35 747.52,142.95 747.77,142.51 748.01,142.98 748.25,142.38 748.49,143.05 748.73,143.00 748.97,142.59 749.22,142.82 749.46,143.38 749.70,143.40 749.94,143.25 750.18,142.95 750.42,142.40 750.66,143.44 750.91,143.38 751.15,143.67 751.39,142.91 751.63,143.16 751.87,143.58 752.11,143.15 752.36,143.00 752.60,143.65 752.84,143.93 753.08,143.23 753.32,142.68 753.56,142.69 753.81,143.10 754.05,143.02 754.29,143.40 754.53,143.24 754.77,143.61 755.01,143.98 755.26,143.91 755.50,143.30 755.74,143.63 755.98,143.05 756.22,143.56 756.46,143.74 756.70,143.42 756.95,143.94 757.19,143.44 757.43,143.58 757.67,143.33 757.91,143.95 758.15,143.65 758.40,143.98 758.64,144.03 758.88,143.89 759.12,143.18 759.36,143.90 759.60,143.78 759.85,143.44 760.09,143.82 760.33,143.49 760.57,143.41 760.81,143.49 761.05,143.65 761.30,143.46 761.54,143.98 761.78,143.51 762.02,143.85 762.26,144.16 762.50,143.57 762.74,144.21 762.99,144.15 763.23,143.76 763.47,144.35 763.71,143.59 763.95,143.53 764.19,144.69 764.44,143.95 764.68,143.92 764.92,144.36 765.16,144.52 765.40,144.40 765.64,144.11 765.89,143.85 766.13,144.10 766.37,143.86 766.61,143.39 766.85,143.49 767.09,143.55 767.34,144.18 767.58,144.29 767.82,144.00 768.06,143.90 768.30,144.60 768.54,143.99 768.78,144.55 769.03,144.19 769.27,143.78 769.51,144.16 769.75,144.21 769.99,144.60 770.23,144.26 770.48,143.82 770.72,144.02 770.96,143.69 771.20,144.00 771.44,144.12 771.68,144.19 771.93,144.41 772.17,143.62 772.41,144.13 772.65,143.83 772.89,143.56 773.13,144.06 773.38,144.38 773.62,144.18 773.86,144.22 774.10,143.49 774.34,143.79 774.58,143.87 774.82,143.63 775.07,143.88 775.31,143.89 775.55,143.71 775.79,143.28 776.03,143.60 776.27,144.29 776.52,144.38 776.76,144.18 777.00,143.80 777.24,143.87 777.48,143.58 777.72,144.26 777.97,143.44 778.21,143.81 778.45,143.62 778.69,143.64 778.93,144.11 779.17,144.07 779.42,143.03 779.66,143.77 779.90,143.43 780.14,143.66"/>
<polyline fill="none" stroke="#1e1ef8" stroke-width="1.1" stroke-linejoin="round" points="441.90,178.27 442.14,178.75 442.38,178.51 442.62,178.54 442.87,178.10 443.11,178.77 443.35,178.75 443.59,178.05 443.83,178.00 444.07,177.94 444.32,178.15 444.56,178.34 444.80,178.69 445.04,178.07 445.28,177.87 445.52,177.96 445.77,178.81 446.01,178.38 446.25,178.81 446.49,178.99 446.73,178.30 446.97,178.87 447.22,178.36 447.46,178.74 447.70,178.57 447.94,178.39 448.18,178.56 448.42,178.79 448.66,178.79 448.91,178.68 449.15,178.29 449.39,179.12 449.63,178.33 449.87,179.03 450.11,178.95 450.36,178.58 450.60,179.11 450.84,178.88 451.08,178.94 451.32,178.51 451.56,178.63 451.81,178.06 452.05,178.32 452.29,178.44 452.53,179.00 452.77,178.75 453.01,178.82 453.26,178.43 453.50,177.82 453.74,178.16 453.98,177.74 454.22,177.96 454.46,178.22 454.70,177.99 454.95,178.22 455.19,178.76 455.43,178.55 455.67,177.67 455.91,177.79 456.15,177.57 456.40,178.04 456.64,177.15 456.88,177.30 457.12,177.80 457.36,177.09 457.60,176.21 457.85,176.85 458.09,176.06 458.33,175.15 458.57,174.87 458.81,174.90 459.05,173.74 459.30,173.08 459.54,171.90 459.78,171.12 460.02,170.57 460.26,170.14 460.50,170.39 460.74,170.15 460.99,170.35 461.23,170.98 461.47,172.09 461.71,173.29 461.95,172.95 462.19,174.28 462.44,174.64 462.68,175.10 462.92,175.67 463.16,176.16 463.40,176.84 463.64,177.21 463.89,176.90 464.13,177.34 464.37,177.84 464.61,177.68 464.85,177.87 465.09,178.88 465.34,179.22 465.58,179.06 465.82,178.51 466.06,179.24 466.30,179.29 466.54,179.49 466.78,178.75 467.03,178.77 467.27,179.38 467.51,179.22 467.75,178.94 467.99,179.31 468.23,178.66 468.48,179.13 468.72,179.13 468.96,179.65 469.20,179.37 469.44,179.55 469.68,179.93 469.93,179.95 470.17,179.79 470.41,179.65 470.65,180.23 470.89,180.49 471.13,179.95 471.38,180.22 471.62,179.97 471.86,180.56 472.10,180.44 472.34,179.70 472.58,179.76 472.82,179.55 473.07,180.10 473.31,180.15 473.55,180.12 473.79,179.44 474.03,179.17 474.27,179.59 474.52,179.99 474.76,179.06 475.00,179.54 475.24,179.26 475.48,179.92 475.72,179.78 475.97,179.50 476.21,179.82 476.45,180.59 476.69,180.41 476.93,180.11 477.17,180.25 477.42,180.42 477.66,180.01 477.90,179.81 478.14,180.09 478.38,180.25 478.62,180.15 478.86,180.57 479.11,180.07 479.35,180.28 479.59,180.08 479.83,180.82 480.07,180.58 480.31,180.85 480.56,180.46 480.80,180.38 481.04,180.54 481.28,180.24 481.52,181.00 481.76,180.02 482.01,180.24 482.25,181.13 482.49,180.87 482.73,180.23 482.97,180.39 483.21,180.51 483.46,180.36 483.70,180.87 483.94,180.75 484.18,180.59 484.42,180.20 484.66,180.32 484.90,180.52 485.15,180.58 485.39,180.34 485.63,180.07 485.87,179.98 486.11,180.84 486.35,181.08 486.60,180.80 486.84,180.20 487.08,180.43 487.32,180.26 487.56,180.62 487.80,180.64 488.05,180.86 488.29,180.85 488.53,180.72 488.77,181.30 489.01,180.37 489.25,181.18 489.50,181.35 489.74,181.43 489.98,180.97 490.22,180.61 490.46,181.07 490.70,180.92 490.94,181.10 491.19,181.23 491.43,180.78 491.67,181.29 491.91,181.78 492.15,181.24 492.39,181.30 492.64,181.79 492.88,180.88 493.12,180.71 493.36,180.76 493.60,181.62 493.84,181.03 494.09,181.26 494.33,181.17 494.57,181.09 494.81,181.47 495.05,181.04 495.29,181.16 495.54,181.54 495.78,181.14 496.02,181.66 496.26,180.75 496.50,181.50 496.74,181.29 496.98,180.97 497.23,180.63 497.47,180.68 497.71,180.73 497.95,181.14 498.19,181.27 498.43,180.59 498.68,181.49 498.92,181.53 499.16,180.89 499.40,181.42 499.64,180.73 499.88,181.58 500.13,181.70 500.37,181.31 500.61,182.05 500.85,181.68 501.09,181.90 501.33,181.26 501.58,181.44 501.82,181.65 502.06,181.12 502.30,181.66 502.54,181.62 502.78,181.20 503.02,181.02 503.27,181.34 503.51,181.11 503.75,181.16 503.99,181.10 504.23,181.58 504.47,181.35 504.72,180.77 504.96,181.57 505.20,181.11 505.44,180.85 505.68,181.31 505.92,181.44 506.17,181.40 506.41,180.95 506.65,180.81 506.89,180.87 507.13,180.91 507.37,181.47 507.62,181.19 507.86,181.96 508.10,181.52 508.34,181.29 508.58,181.00 508.82,181.72 509.06,181.21 509.31,181.44 509.55,181.77 509.79,181.38 510.03,181.49 510.27,181.87 510.51,181.22 510.76,181.16 511.00,181.30 511.24,181.89 511.48,181.51 511.72,181.23 511.96,181.83 512.21,181.59 512.45,181.21 512.69,182.06 512.93,181.86 513.17,181.53 513.41,181.02 513.66,181.22 513.90,180.42 514.14,180.60 514.38,180.61 514.62,180.99 514.86,180.67 515.10,179.82 515.35,179.87 515.59,179.58 515.83,179.44 516.07,179.04 516.31,179.10 516.55,178.28 516.80,177.43 517.04,177.06 517.28,176.93 517.52,175.36 517.76,174.30 518.00,174.00 518.25,172.54 518.49,171.78 518.73,170.78 518.97,169.08 519.21,169.00 519.45,168.67 519.70,167.94 519.94,168.28 520.18,168.58 520.42,169.58 520.66,170.76 520.90,171.45 521.14,172.50 521.39,173.40 521.63,174.79 521.87,175.61 522.11,176.74 522.35,177.21 522.59,177.54 522.84,178.71 523.08,179.05 523.32,178.90 523.56,179.65 523.80,179.31 524.04,180.07 524.29,179.83 524.53,180.34 524.77,180.44 525.01,180.58 525.25,180.81 525.49,180.62 525.74,180.47 525.98,180.67 526.22,181.10 526.46,181.13 526.70,181.55 526.94,181.56 527.18,180.78 527.43,181.09 527.67,180.85 527.91,181.50 528.15,181.58 528.39,181.67 528.63,181.15 528.88,181.59 529.12,181.23 529.36,181.31 529.60,181.16 529.84,181.52 530.08,181.57 530.33,181.47 530.57,180.66 530.81,181.08 531.05,181.46 531.29,181.01 531.53,181.58 531.78,181.11 532.02,182.04 532.26,181.15 532.50,180.94 532.74,181.68 532.98,181.45 533.22,180.50 533.47,180.95 533.71,180.67 533.95,180.63 534.19,180.67 534.43,180.93 534.67,180.95 534.92,181.27 535.16,181.40 535.40,181.10 535.64,180.79 535.88,181.23 536.12,180.38 536.37,181.35 536.61,180.91 536.85,180.58 537.09,180.45 537.33,180.72 537.57,180.48 537.82,180.77 538.06,180.28 538.30,179.55 538.54,179.20 538.78,179.17 539.02,179.10 539.26,179.85 539.51,178.84 539.75,179.05 539.99,178.85 540.23,179.23 540.47,178.90 540.71,177.89 540.96,178.35 541.20,177.69 541.44,177.23 541.68,176.03 541.92,175.58 542.16,175.63 542.41,174.67 542.65,173.73 542.89,172.64 543.13,171.15 543.37,169.63 543.61,167.46 543.86,165.12 544.10,162.93 544.34,159.68 544.58,157.16 544.82,152.66 545.06,149.36 545.30,144.33 545.55,140.76 545.79,137.51 546.03,133.88 546.27,133.08 546.51,133.21 546.75,136.11 547.00,138.60 547.24,143.30 547.48,146.96 547.72,151.95 547.96,155.04 548.20,159.00 548.45,161.89 548.69,164.45 548.93,166.53 549.17,168.27 549.41,169.83 549.65,170.94 549.90,172.58 550.14,173.28 550.38,174.56 550.62,175.56 550.86,175.75 551.10,176.09 551.34,176.43 551.59,176.49 551.83,176.65 552.07,177.53 552.31,178.05 552.55,178.27 552.79,178.19 553.04,177.88 553.28,178.13 553.52,177.47 553.76,178.03 554.00,177.36 554.24,177.16 554.49,177.94 554.73,178.08 554.97,177.98 555.21,178.44 555.45,178.67 555.69,179.13 555.94,178.76 556.18,179.34 556.42,179.74 556.66,179.77 556.90,179.96 557.14,180.05 557.38,180.74 557.63,180.58 557.87,180.69 558.11,180.35 558.35,181.64 558.59,181.15 558.83,180.74 559.08,181.85 559.32,181.18 559.56,181.93 559.80,181.53 560.04,181.94 560.28,182.21 560.53,181.82 560.77,182.19 561.01,181.58 561.25,182.09 561.49,182.08 561.73,181.84 561.98,182.54 562.22,181.69 562.46,182.10 562.70,182.59 562.94,181.81 563.18,181.97 563.42,182.01 563.67,182.55 563.91,182.36 564.15,182.58 564.39,182.11 564.63,181.93 564.87,182.47 565.12,182.23 565.36,181.83 565.60,181.93 565.84,182.38 566.08,182.45 566.32,182.45 566.57,182.60 566.81,181.94 567.05,182.67 567.29,181.81 567.53,181.76 567.77,181.97 568.02,182.14 568.26,182.17 568.50,182.86 568.74,182.87 568.98,182.87 569.22,182.58 569.46,182.12 569.71,182.69 569.95,182.48 570.19,182.32 570.43,181.87 570.67,182.41 570.91,181.73 571.16,182.32 571.40,182.00 571.64,182.56 571.88,182.08 572.12,181.99 572.36,182.02 572.61,182.66 572.85,182.86 573.09,182.07 573.33,181.96 573.57,182.30 573.81,182.50 574.06,182.10 574.30,182.84 574.54,181.98 574.78,182.37 575.02,182.30 575.26,182.55 575.50,182.56 575.75,182.23 575.99,183.14 576.23,182.80 576.47,182.20 576.71,182.77 576.95,182.16 577.20,181.62 577.44,182.40 577.68,181.44 577.92,182.01 578.16,181.45 578.40,181.46 578.65,181.40 578.89,181.58 579.13,181.78 579.37,181.53 579.61,181.61 579.85,180.73 580.10,180.76 580.34,180.19 580.58,180.69 580.82,179.70 581.06,180.22 581.30,179.12 581.54,178.94 581.79,178.15 582.03,177.53 582.27,177.34 582.51,176.51 582.75,175.50 582.99,175.52 583.24,174.75 583.48,173.52 583.72,172.81 583.96,171.59 584.20,171.63 584.44,170.87 584.69,170.67 584.93,171.92 585.17,172.77 585.41,172.68 585.65,174.26 585.89,174.73 586.14,176.01 586.38,176.81 586.62,176.98 586.86,178.14 587.10,178.46 587.34,179.11 587.58,180.07 587.83,180.02 588.07,180.83 588.31,180.59 588.55,180.56 588.79,180.78 589.03,181.61 589.28,181.78 589.52,181.88 589.76,182.25 590.00,181.37 590.24,182.11 590.48,182.39 590.73,181.92 590.97,181.99 591.21,182.07 591.45,182.82 591.69,182.47 591.93,182.92 592.18,182.62 592.42,183.11 592.66,182.96 592.90,182.97 593.14,183.08 593.38,183.16 593.62,182.79 593.87,183.24 594.11,183.44 594.35,183.22 594.59,182.89 594.83,182.67 595.07,183.25 595.32,183.01 595.56,183.49 595.80,182.73 596.04,183.07 596.28,182.70 596.52,182.52 596.77,183.54 597.01,183.14 597.25,183.25 597.49,183.62 597.73,183.54 597.97,182.94 598.22,183.08 598.46,183.04 598.70,183.70 598.94,183.19 599.18,182.84 599.42,182.80 599.66,183.08 599.91,183.44 600.15,183.19 600.39,183.70 600.63,183.52 600.87,183.28 601.11,183.29 601.36,183.04 601.60,183.93 601.84,183.98 602.08,183.24 602.32,183.75 602.56,183.23 602.81,183.29 603.05,183.50 603.29,183.64 603.53,183.69 603.77,183.00 604.01,183.65 604.26,183.58 604.50,183.15 604.74,183.78 604.98,183.01 605.22,183.96 605.46,183.94 605.70,182.84 605.95,183.29 606.19,183.41 606.43,184.07 606.67,184.16 606.91,183.98 607.15,183.35 607.40,183.35 607.64,183.66 607.88,183.70 608.12,183.10 608.36,183.23 608.60,183.59 608.85,183.14 609.09,184.11 609.33,184.06 609.57,184.36 609.81,183.61 610.05,184.36 610.30,184.07 610.54,183.86 610.78,184.32 611.02,184.18 611.26,183.62 611.50,183.22 611.74,183.70 611.99,183.53 612.23,183.58 612.47,183.02 612.71,183.16 612.95,183.82 613.19,184.05 613.44,182.96 613.68,183.72 613.92,183.03 614.16,183.25 614.40,184.11 614.64,183.01 614.89,183.13 615.13,183.40 615.37,183.47 615.61,183.55 615.85,183.35 616.09,183.36 616.34,183.31 616.58,183.65 616.82,183.96 617.06,183.64 617.30,183.32 617.54,183.46 617.78,183.44 618.03,183.68 618.27,183.44 618.51,183.38 618.75,183.89 618.99,183.71 619.23,183.27 619.48,183.88 619.72,183.72 619.96,183.58 620.20,183.76 620.44,184.24 620.68,183.52 620.93,183.36 621.17,183.70 621.41,183.92 621.65,184.08 621.89,183.19 622.13,183.39 622.38,183.33 622.62,183.05 622.86,183.43 623.10,183.53 623.34,183.74 623.58,183.89 623.82,183.11 624.07,183.75 624.31,182.84 624.55,183.41 624.79,182.99 625.03,183.41 625.27,183.43 625.52,184.02 625.76,184.08 626.00,183.89 626.24,182.99 626.48,183.79 626.72,183.40 626.97,183.95 627.21,182.95 627.45,183.23 627.69,183.75 627.93,183.73 628.17,183.09 628.42,183.30 628.66,183.51 628.90,182.88 629.14,182.66 629.38,183.60 629.62,182.93 629.86,182.92 630.11,182.68 630.35,183.28 630.59,183.74 630.83,183.90 631.07,183.86 631.31,183.01 631.56,183.15 631.80,183.09 632.04,182.85 632.28,182.77 632.52,183.23 632.76,183.17 633.01,182.90 633.25,183.14 633.49,183.19 633.73,182.88 633.97,182.46 634.21,182.20 634.46,181.30 634.70,181.03 634.94,181.29 635.18,181.03 635.42,180.78 635.66,180.53 635.90,180.11 636.15,179.53 636.39,179.90 636.63,179.95 636.87,179.09 637.11,178.96 637.35,179.59 637.60,180.22 637.84,180.22 638.08,180.70 638.32,180.06 638.56,181.38 638.80,180.73 639.05,181.45 639.29,180.84 639.53,181.03 639.77,181.55 640.01,181.20 640.25,181.54 640.50,181.82 640.74,181.82 640.98,182.33 641.22,182.18 641.46,181.81 641.70,182.31 641.94,182.68 642.19,182.13 642.43,182.65 642.67,182.28 642.91,182.76 643.15,182.78 643.39,182.15 643.64,182.84 643.88,183.08 644.12,182.79 644.36,182.23 644.60,182.72 644.84,182.85 645.09,182.93 645.33,182.46 645.57,182.16 645.81,181.97 646.05,182.16 646.29,182.10 646.54,182.53 646.78,182.74 647.02,182.09 647.26,181.99 647.50,181.80 647.74,181.81 647.98,182.24 648.23,181.53 648.47,181.83 648.71,181.08 648.95,181.58 649.19,181.51 649.43,181.10 649.68,180.72 649.92,180.78 650.16,180.69 650.40,181.05 650.64,180.35 650.88,180.17 651.13,180.27 651.37,179.03 651.61,178.73 651.85,178.37 652.09,177.50 652.33,176.43 652.58,175.99 652.82,175.55 653.06,173.85 653.30,173.12 653.54,172.18 653.78,170.69 654.02,170.42 654.27,169.29 654.51,168.97 654.75,169.32 654.99,169.71 655.23,170.25 655.47,170.56 655.72,172.61 655.96,172.86 656.20,174.24 656.44,175.26 656.68,175.25 656.92,176.24 657.17,176.99 657.41,177.91 657.65,179.09 657.89,179.24 658.13,179.50 658.37,180.38 658.62,180.32 658.86,180.64 659.10,180.76 659.34,181.24 659.58,180.72 659.82,181.01 660.06,181.39 660.31,181.31 660.55,182.06 660.79,181.61 661.03,182.16 661.27,181.71 661.51,182.19 661.76,182.47 662.00,182.64 662.24,182.20 662.48,182.10 662.72,182.91 662.96,182.96 663.21,182.44 663.45,182.07 663.69,182.92 663.93,182.60 664.17,183.06 664.41,182.95 664.66,183.09 664.90,182.30 665.14,182.51 665.38,182.53 665.62,182.21 665.86,182.76 666.10,183.04 666.35,183.32 666.59,182.56 666.83,182.91 667.07,183.13 667.31,182.61 667.55,183.50 667.80,183.05 668.04,182.87 668.28,183.22 668.52,182.54 668.76,182.42 669.00,182.53 669.25,182.95 669.49,182.84 669.73,182.92 669.97,182.53 670.21,182.67 670.45,182.78 670.70,182.47 670.94,182.98 671.18,182.83 671.42,182.51 671.66,183.00 671.90,182.18 672.14,182.17 672.39,183.00 672.63,183.04 672.87,182.78 673.11,182.49 673.35,182.76 673.59,182.13 673.84,182.38 674.08,182.66 674.32,181.50 674.56,181.92 674.80,182.43 675.04,182.15 675.29,181.99 675.53,181.34 675.77,181.94 676.01,181.82 676.25,181.22 676.49,180.98 676.74,180.87 676.98,181.15 677.22,181.37 677.46,180.39 677.70,180.85 677.94,180.05 678.18,180.38 678.43,179.18 678.67,178.94 678.91,178.87 679.15,177.92 679.39,177.36 679.63,176.65 679.88,175.71 680.12,174.97 680.36,173.69 680.60,173.01 680.84,171.51 681.08,171.12 681.33,169.32 681.57,168.40 681.81,167.47 682.05,166.24 682.29,166.20 682.53,165.73 682.78,166.59 683.02,166.72 683.26,167.77 683.50,169.19 683.74,170.79 683.98,172.05 684.22,172.79 684.47,173.77 684.71,174.98 684.95,175.55 685.19,176.57 685.43,177.16 685.67,178.29 685.92,177.89 686.16,179.09 686.40,179.47 686.64,179.62 686.88,180.25 687.12,179.85 687.37,180.73 687.61,181.01 687.85,181.55 688.09,181.71 688.33,181.32 688.57,181.45 688.82,182.01 689.06,181.27 689.30,181.82 689.54,182.16 689.78,181.82 690.02,181.98 690.26,181.93 690.51,181.86 690.75,182.62 690.99,182.94 691.23,182.92 691.47,183.05 691.71,182.14 691.96,182.35 692.20,182.95 692.44,183.04 692.68,183.14 692.92,182.98 693.16,182.84 693.41,182.71 693.65,182.86 693.89,182.47 694.13,183.39 694.37,183.11 694.61,182.31 694.86,183.21 695.10,182.44 695.34,183.16 695.58,183.21 695.82,182.69 696.06,182.71 696.30,183.43 696.55,183.09 696.79,183.15 697.03,183.16 697.27,182.77 697.51,183.35 697.75,183.17 698.00,183.29 698.24,183.19 698.48,183.07 698.72,182.81 698.96,183.25 699.20,183.67 699.45,183.09 699.69,182.67 699.93,183.48 700.17,183.31 700.41,182.91 700.65,183.51 700.90,183.30 701.14,182.89 701.38,183.09 701.62,183.85 701.86,183.30 702.10,183.07 702.34,182.94 702.59,183.88 702.83,183.30 703.07,183.81 703.31,183.54 703.55,182.82 703.79,183.61 704.04,183.29 704.28,183.42 704.52,183.94 704.76,182.86 705.00,183.64 705.24,183.03 705.49,183.74 705.73,183.22 705.97,183.08 706.21,182.96 706.45,183.69 706.69,183.57 706.94,183.80 707.18,184.01 707.42,183.61 707.66,183.96 707.90,183.80 708.14,183.27 708.38,183.75 708.63,183.21 708.87,183.10 709.11,183.19 709.35,183.70 709.59,183.04 709.83,183.34 710.08,183.27 710.32,183.81 710.56,183.25 710.80,182.82 711.04,183.10 711.28,183.15 711.53,183.55 711.77,183.39 712.01,183.01 712.25,182.51 712.49,183.10 712.73,182.77 712.98,182.90 713.22,183.35 713.46,182.40 713.70,182.72 713.94,182.51 714.18,182.96 714.42,183.06 714.67,183.05 714.91,183.02 715.15,183.22 715.39,183.15 715.63,183.40 715.87,183.57 716.12,182.89 716.36,182.80 716.60,182.73 716.84,182.98 717.08,183.02 717.32,182.86 717.57,183.28 717.81,182.85 718.05,183.44 718.29,183.33 718.53,183.20 718.77,182.96 719.02,183.14 719.26,182.86 719.50,183.79 719.74,183.18 719.98,183.03 720.22,182.77 720.46,183.25 720.71,183.90 720.95,183.98 721.19,183.04 721.43,183.89 721.67,183.60 721.91,183.39 722.16,183.00 722.40,183.12 722.64,183.60 722.88,183.62 723.12,183.20 723.36,183.40 723.61,183.10 723.85,182.79 724.09,182.83 724.33,183.24 724.57,182.46 724.81,183.11 725.06,182.87 725.30,182.14 725.54,182.74 725.78,182.61 726.02,182.74 726.26,182.81 726.50,182.41 726.75,183.15 726.99,182.76 727.23,183.35 727.47,182.87 727.71,183.09 727.95,182.39 728.20,182.62 728.44,182.46 728.68,182.43 728.92,182.99 729.16,183.21 729.40,182.47 729.65,183.12 729.89,182.70 730.13,183.23 730.37,182.97 730.61,182.95 730.85,182.95 731.10,182.80 731.34,182.86 731.58,182.55 731.82,182.69 732.06,183.25 732.30,183.02 732.54,183.19 732.79,183.34 733.03,183.06 733.27,183.07 733.51,182.67 733.75,182.91 733.99,182.60 734.24,182.08 734.48,182.28 734.72,182.47 734.96,182.31 735.20,181.34 735.44,182.00 735.69,181.82 735.93,182.17 736.17,181.66 736.41,181.44 736.65,181.10 736.89,181.98 737.14,181.55 737.38,180.89 737.62,181.12 737.86,181.53 738.10,181.19 738.34,180.92 738.58,180.63 738.83,180.82 739.07,180.74 739.31,181.04 739.55,180.44 739.79,180.36 740.03,180.28 740.28,180.46 740.52,180.78 740.76,180.28 741.00,180.12 741.24,179.99 741.48,180.64 741.73,179.86 741.97,180.39 742.21,180.16 742.45,180.59 742.69,180.77 742.93,180.67 743.18,180.39 743.42,180.77 743.66,181.32 743.90,181.56 744.14,181.05 744.38,181.91 744.62,181.40 744.87,181.47 745.11,181.81 745.35,182.21 745.59,182.03 745.83,181.89 746.07,182.19 746.32,182.33 746.56,181.71 746.80,182.67 747.04,182.65 747.28,182.55 747.52,181.52 747.77,181.85 748.01,181.84 748.25,182.14 748.49,182.18 748.73,182.50 748.97,182.83 749.22,182.15 749.46,183.14 749.70,182.78 749.94,182.45 750.18,182.24 750.42,182.47 750.66,182.87 750.91,182.47 751.15,183.06 751.39,182.79 751.63,183.02 751.87,183.27 752.11,182.80 752.36,182.56 752.60,183.18 752.84,182.99 753.08,183.12 753.32,182.74 753.56,182.92 753.81,182.92 754.05,182.76 754.29,183.04 754.53,183.56 754.77,183.24 755.01,183.46 755.26,182.61 755.50,183.04 755.74,182.88 755.98,183.38 756.22,183.42 756.46,182.99 756.70,183.66 756.95,182.90 757.19,183.17 757.43,183.70 757.67,183.87 757.91,184.03 758.15,183.67 758.40,183.79 758.64,183.49 758.88,183.12 759.12,183.67 759.36,183.61 759.60,183.43 759.85,183.58 760.09,183.11 760.33,183.01 760.57,182.82 760.81,183.53 761.05,183.33 761.30,183.53 761.54,183.51 761.78,182.95 762.02,183.23 762.26,182.81 762.50,182.78 762.74,183.27 762.99,183.36 763.23,182.62 763.47,182.86 763.71,182.62 763.95,183.53 764.19,183.44 764.44,182.75 764.68,183.35 764.92,182.72 765.16,183.00 765.40,182.37 765.64,182.49 765.89,182.66 766.13,183.49 766.37,183.15 766.61,183.41 766.85,183.74 767.09,183.62 767.34,182.97 767.58,183.17 767.82,183.37 768.06,183.58 768.30,183.15 768.54,182.83 768.78,183.60 769.03,183.55 769.27,183.15 769.51,183.20 769.75,183.01 769.99,183.18 770.23,182.99 770.48,182.79 770.72,183.39 770.96,182.76 771.20,183.56 771.44,183.78 771.68,183.20 771.93,182.94 772.17,182.68 772.41,183.08 772.65,182.80 772.89,182.85 773.13,182.49 773.38,183.13 773.62,182.49 773.86,183.50 774.10,182.96 774.34,182.83 774.58,183.61 774.82,183.47 775.07,182.63 775.31,183.14 775.55,183.06 775.79,182.69 776.03,182.68 776.27,183.30 776.52,183.35 776.76,183.48 777.00,183.18 777.24,183.19 777.48,183.32 777.72,183.20 777.97,182.53 778.21,183.50 778.45,182.86 778.69,183.27 778.93,183.15 779.17,183.40 779.42,183.34 779.66,183.60 779.90,182.96 780.14,182.98"/>
<polyline fill="none" stroke="#22d022" stroke-width="1.1" stroke-linejoin="round" points="441.90,207.04 442.14,207.73 442.38,207.64 442.62,207.21 442.87,208.12 443.11,207.97 443.35,207.47 443.59,207.86 443.83,207.34 444.07,207.76 444.32,208.13 444.56,207.41 444.80,207.16 445.04,207.42 445.28,207.47 445.52,207.57 445.77,207.15 446.01,207.36 446.25,207.79 446.49,207.99 446.73,207.28 446.97,207.27 447.22,208.03 447.46,207.39 447.70,207.73 447.94,207.61 448.18,207.57 448.42,208.46 448.66,208.55 448.91,207.83 449.15,207.99 449.39,207.46 449.63,208.18 449.87,207.64 450.11,207.69 450.36,207.81 450.60,207.63 450.84,208.22 451.08,208.09 451.32,207.63 451.56,208.16 451.81,207.91 452.05,207.82 452.29,208.47 452.53,208.34 452.77,207.88 453.01,208.14 453.26,208.15 453.50,207.34 453.74,208.12 453.98,208.10 454.22,207.73 454.46,208.04 454.70,208.16 454.95,208.24 455.19,207.36 455.43,207.73 455.67,207.56 455.91,207.28 456.15,207.91 456.40,207.73 456.64,207.08 456.88,207.31 457.12,206.39 457.36,206.81 457.60,206.27 457.85,206.02 458.09,205.94 458.33,205.40 458.57,204.89 458.81,204.42 459.05,203.36 459.30,201.98 459.54,202.03 459.78,200.85 460.02,200.77 460.26,200.49 460.50,199.93 460.74,199.62 460.99,199.36 461.23,200.54 461.47,200.75 461.71,202.33 461.95,203.10 462.19,203.46 462.44,203.85 462.68,204.72 462.92,205.98 463.16,206.55 463.40,206.66 463.64,206.62 463.89,206.51 464.13,206.96 464.37,207.63 464.61,207.37 464.85,208.17 465.09,207.72 465.34,208.22 465.58,208.22 465.82,208.27 466.06,209.40 466.30,208.69 466.54,209.08 466.78,209.72 467.03,209.32 467.27,209.64 467.51,209.69 467.75,209.44 467.99,209.67 468.23,210.11 468.48,210.24 468.72,210.20 468.96,210.03 469.20,209.44 469.44,209.57 469.68,209.38 469.93,209.66 470.17,210.81 470.41,210.75 470.65,210.49 470.89,210.16 471.13,210.92 471.38,210.44 471.62,210.67 471.86,210.89 472.10,210.64 472.34,210.49 472.58,211.38 472.82,210.85 473.07,210.84 473.31,210.27 473.55,210.32 473.79,210.70 474.03,211.07 474.27,211.58 474.52,211.14 474.76,211.15 475.00,211.37 475.24,211.01 475.48,210.75 475.72,211.43 475.97,210.95 476.21,211.78 476.45,211.34 476.69,211.47 476.93,211.44 477.17,211.45 477.42,211.43 477.66,211.19 477.90,210.73 478.14,211.16 478.38,211.09 478.62,211.15 478.86,210.68 479.11,211.57 479.35,211.21 479.59,211.06 479.83,210.56 480.07,211.13 480.31,211.64 480.56,211.49 480.80,211.60 481.04,211.32 481.28,211.06 481.52,210.86 481.76,211.37 482.01,212.09 482.25,211.59 482.49,211.74 482.73,211.14 482.97,211.16 483.21,211.54 483.46,211.37 483.70,212.01 483.94,212.11 484.18,211.20 484.42,211.85 484.66,211.57 484.90,212.11 485.15,211.25 485.39,211.45 485.63,211.36 485.87,211.86 486.11,211.43 486.35,212.02 486.60,211.68 486.84,212.45 487.08,211.56 487.32,211.89 487.56,211.85 487.80,212.00 488.05,212.10 488.29,211.61 488.53,211.71 488.77,212.13 489.01,212.50 489.25,212.55 489.50,212.98 489.74,212.35 489.98,212.81 490.22,212.64 490.46,212.52 490.70,212.61 490.94,212.66 491.19,211.96 491.43,212.44 491.67,212.40 491.91,212.00 492.15,212.55 492.39,212.85 492.64,212.42 492.88,212.28 493.12,212.97 493.36,212.69 493.60,211.82 493.84,212.76 494.09,212.95 494.33,212.30 494.57,212.98 494.81,212.92 495.05,212.22 495.29,212.47 495.54,212.25 495.78,212.49 496.02,212.68 496.26,212.86 496.50,211.91 496.74,212.27 496.98,211.99 497.23,211.82 497.47,212.77 497.71,212.00 497.95,212.58 498.19,213.00 498.43,213.19 498.68,213.24 498.92,213.01 499.16,213.08 499.40,213.27 499.64,212.75 499.88,213.19 500.13,212.77 500.37,213.02 500.61,212.86 500.85,212.73 501.09,213.39 501.33,212.93 501.58,213.28 501.82,212.60 502.06,212.99 502.30,213.26 502.54,213.03 502.78,212.27 503.02,212.86 503.27,213.21 503.51,212.73 503.75,212.37 503.99,212.82 504.23,212.59 504.47,212.67 504.72,212.77 504.96,213.03 505.20,212.95 505.44,213.11 505.68,212.87 505.92,212.88 506.17,212.68 506.41,213.28 506.65,213.29 506.89,212.93 507.13,213.43 507.37,212.86 507.62,213.03 507.86,213.27 508.10,213.62 508.34,212.90 508.58,212.82 508.82,212.92 509.06,213.64 509.31,212.52 509.55,212.70 509.79,212.73 510.03,213.04 510.27,213.52 510.51,213.13 510.76,212.96 511.00,213.41 511.24,212.48 511.48,213.21 511.72,212.58 511.96,212.53 512.21,213.41 512.45,212.40 512.69,213.52 512.93,212.79 513.17,213.12 513.41,212.72 513.66,213.19 513.90,212.45 514.14,212.57 514.38,212.35 514.62,212.22 514.86,212.42 515.10,212.31 515.35,212.18 515.59,212.15 515.83,211.17 516.07,210.73 516.31,209.66 516.55,209.68 516.80,208.92 517.04,209.02 517.28,208.17 517.52,206.63 517.76,206.49 518.00,205.13 518.25,203.95 518.49,202.63 518.73,201.71 518.97,200.49 519.21,199.35 519.45,198.91 519.70,198.73 519.94,198.44 520.18,199.35 520.42,200.09 520.66,200.90 520.90,202.84 521.14,204.39 521.39,205.62 521.63,205.90 521.87,207.77 522.11,207.91 522.35,208.90 522.59,209.41 522.84,210.45 523.08,210.93 523.32,210.57 523.56,211.19 523.80,211.67 524.04,211.67 524.29,211.98 524.53,212.35 524.77,213.06 525.01,211.98 525.25,212.78 525.49,213.23 525.74,212.93 525.98,213.13 526.22,213.70 526.46,213.18 526.70,213.05 526.94,213.58 527.18,213.60 527.43,213.27 527.67,213.06 527.91,213.80 528.15,213.34 528.39,212.97 528.63,213.55 528.88,213.53 529.12,212.72 529.36,213.31 529.60,213.19 529.84,212.86 530.08,213.09 530.33,213.63 530.57,212.80 530.81,213.50 531.05,213.66 531.29,213.90 531.53,213.78 531.78,213.21 532.02,213.89 532.26,212.92 532.50,213.37 532.74,213.82 532.98,213.66 533.22,212.92 533.47,212.59 533.71,212.98 533.95,212.76 534.19,212.88 534.43,212.90 534.67,212.71 534.92,212.98 535.16,212.55 535.40,212.94 535.64,213.05 535.88,212.27 536.12,212.09 536.37,212.24 536.61,212.97 536.85,212.70 537.09,212.52 537.33,212.47 537.57,212.70 537.82,212.04 538.06,212.61 538.30,211.84 538.54,211.43 538.78,211.87 539.02,211.26 539.26,211.14 539.51,210.56 539.75,210.42 539.99,210.78 540.23,209.91 540.47,209.65 540.71,210.06 540.96,209.24 541.20,208.55 541.44,208.84 541.68,207.49 541.92,207.21 542.16,206.00 542.41,205.19 542.65,204.31 542.89,203.12 543.13,201.05 543.37,199.17 543.61,198.06 543.86,195.27 544.10,192.53 544.34,188.92 544.58,185.69 544.82,181.64 545.06,177.27 545.30,171.92 545.55,167.55 545.79,163.69 546.03,160.80 546.27,159.02 546.51,159.67 546.75,162.08 547.00,165.05 547.24,170.14 547.48,175.20 547.72,180.10 547.96,183.63 548.20,187.76 548.45,190.44 548.69,193.47 548.93,196.39 549.17,198.09 549.41,200.23 549.65,201.44 549.90,203.04 550.14,204.15 550.38,205.32 550.62,205.85 550.86,207.10 551.10,207.21 551.34,207.65 551.59,207.84 551.83,209.07 552.07,209.38 552.31,209.13 552.55,209.20 552.79,208.75 553.04,208.74 553.28,209.03 553.52,209.60 553.76,208.95 554.00,208.61 554.24,209.10 554.49,209.11 554.73,208.11 554.97,208.50 555.21,209.45 555.45,209.96 555.69,210.49 555.94,210.86 556.18,210.78 556.42,211.58 556.66,211.17 556.90,212.32 557.14,211.71 557.38,212.27 557.63,212.68 557.87,213.04 558.11,212.69 558.35,212.74 558.59,213.42 558.83,213.10 559.08,213.40 559.32,213.57 559.56,213.95 559.80,214.08 560.04,214.14 560.28,213.33 560.53,213.87 560.77,214.20 561.01,213.70 561.25,214.28 561.49,214.23 561.73,214.03 561.98,214.59 562.22,214.34 562.46,213.83 562.70,213.81 562.94,214.14 563.18,214.65 563.42,214.71 563.67,214.47 563.91,215.08 564.15,214.17 564.39,214.26 564.63,214.77 564.87,214.76 565.12,214.19 565.36,215.26 565.60,215.28 565.84,214.81 566.08,215.41 566.32,214.49 566.57,215.08 566.81,214.41 567.05,214.35 567.29,214.28 567.53,214.48 567.77,214.51 568.02,215.11 568.26,214.94 568.50,214.93 568.74,214.65 568.98,214.93 569.22,214.52 569.46,214.35 569.71,214.83 569.95,214.23 570.19,215.00 570.43,214.39 570.67,214.13 570.91,214.85 571.16,214.28 571.40,214.10 571.64,214.54 571.88,214.64 572.12,215.32 572.36,214.28 572.61,214.83 572.85,214.95 573.09,213.88 573.33,214.49 573.57,214.72 573.81,214.30 574.06,214.71 574.30,214.78 574.54,214.41 574.78,214.25 575.02,214.66 575.26,214.18 575.50,214.69 575.75,215.06 575.99,214.60 576.23,214.68 576.47,214.36 576.71,214.57 576.95,214.40 577.20,214.87 577.44,214.43 577.68,214.02 577.92,214.14 578.16,214.49 578.40,214.86 578.65,214.24 578.89,214.28 579.13,214.02 579.37,213.75 579.61,213.44 579.85,213.24 580.10,213.14 580.34,212.75 580.58,212.74 580.82,211.96 581.06,211.44 581.30,211.80 581.54,210.91 581.79,210.43 582.03,210.13 582.27,209.74 582.51,208.91 582.75,207.34 582.99,206.57 583.24,205.22 583.48,204.97 583.72,203.74 583.96,202.88 584.20,202.43 584.44,202.71 584.69,201.70 584.93,202.48 585.17,203.50 585.41,203.82 585.65,205.40 585.89,205.59 586.14,207.46 586.38,207.80 586.62,208.78 586.86,209.46 587.10,210.31 587.34,210.73 587.58,211.43 587.83,211.54 588.07,211.85 588.31,212.53 588.55,212.38 588.79,212.67 589.03,213.08 589.28,213.77 589.52,213.98 589.76,213.92 590.00,213.73 590.24,214.43 590.48,214.38 590.73,214.71 590.97,215.05 591.21,214.36 591.45,215.13 591.69,215.04 591.93,214.80 592.18,214.87 592.42,214.32 592.66,214.90 592.90,215.27 593.14,214.38 593.38,214.76 593.62,215.13 593.87,214.64 594.11,215.36 594.35,215.53 594.59,215.30 594.83,214.91 595.07,215.45 595.32,215.67 595.56,215.25 595.80,214.99 596.04,214.93 596.28,215.28 596.52,214.75 596.77,214.99 597.01,215.10 597.25,215.32 597.49,215.07 597.73,215.68 597.97,215.31 598.22,215.89 598.46,215.57 598.70,215.29 598.94,215.51 599.18,215.71 599.42,215.57 599.66,215.09 599.91,215.90 600.15,215.49 600.39,215.49 600.63,215.27 600.87,215.85 601.11,215.65 601.36,215.66 601.60,215.78 601.84,215.61 602.08,215.70 602.32,215.93 602.56,216.27 602.81,216.14 603.05,216.41 603.29,216.33 603.53,215.83 603.77,216.44 604.01,216.06 604.26,216.33 604.50,216.71 604.74,216.42 604.98,216.51 605.22,216.69 605.46,216.47 605.70,216.20 605.95,216.42 606.19,216.20 606.43,216.39 606.67,215.75 606.91,215.90 607.15,215.87 607.40,215.82 607.64,215.25 607.88,215.89 608.12,215.39 608.36,215.23 608.60,215.45 608.85,215.86 609.09,215.62 609.33,216.14 609.57,215.71 609.81,215.62 610.05,215.66 610.30,216.15 610.54,216.03 610.78,216.24 611.02,215.85 611.26,216.06 611.50,215.88 611.74,216.12 611.99,216.01 612.23,215.65 612.47,216.43 612.71,215.56 612.95,216.34 613.19,215.91 613.44,216.02 613.68,215.39 613.92,215.63 614.16,216.06 614.40,215.68 614.64,216.53 614.89,216.00 615.13,216.23 615.37,216.60 615.61,216.77 615.85,216.17 616.09,215.87 616.34,216.16 616.58,216.04 616.82,216.32 617.06,216.02 617.30,216.20 617.54,216.24 617.78,215.40 618.03,215.47 618.27,216.06 618.51,216.50 618.75,216.53 618.99,215.91 619.23,216.17 619.48,216.15 619.72,215.95 619.96,216.00 620.20,216.47 620.44,216.49 620.68,216.14 620.93,216.03 621.17,215.89 621.41,215.82 621.65,215.92 621.89,216.46 622.13,216.22 622.38,215.77 622.62,215.58 622.86,216.46 623.10,215.74 623.34,215.84 623.58,216.03 623.82,216.66 624.07,215.88 624.31,215.58 624.55,216.26 624.79,215.54 625.03,216.33 625.27,215.50 625.52,215.58 625.76,215.89 626.00,216.34 626.24,215.77 626.48,215.77 626.72,216.12 626.97,216.00 627.21,216.17 627.45,216.06 627.69,216.03 627.93,215.36 628.17,215.49 628.42,215.79 628.66,215.50 628.90,215.12 629.14,215.70 629.38,215.71 629.62,215.84 629.86,215.38 630.11,215.34 630.35,215.46 630.59,216.10 630.83,215.62 631.07,215.63 631.31,215.51 631.56,216.21 631.80,215.67 632.04,215.43 632.28,215.15 632.52,215.15 632.76,215.13 633.01,215.56 633.25,215.31 633.49,214.53 633.73,214.65 633.97,214.17 634.21,213.89 634.46,213.94 634.70,214.18 634.94,213.73 635.18,213.37 635.42,212.76 635.66,212.45 635.90,212.80 636.15,212.83 636.39,212.56 636.63,212.08 636.87,212.51 637.11,212.00 637.35,213.03 637.60,213.16 637.84,212.88 638.08,212.85 638.32,212.95 638.56,213.72 638.80,213.63 639.05,213.93 639.29,213.79 639.53,213.38 639.77,214.08 640.01,214.77 640.25,214.42 640.50,214.27 640.74,214.98 640.98,215.28 641.22,214.29 641.46,214.87 641.70,214.64 641.94,214.61 642.19,214.90 642.43,215.18 642.67,215.13 642.91,214.87 643.15,214.62 643.39,215.04 643.64,214.88 643.88,214.54 644.12,214.99 644.36,214.33 644.60,214.49 644.84,214.40 645.09,215.11 645.33,215.10 645.57,215.08 645.81,214.61 646.05,214.26 646.29,214.42 646.54,215.14 646.78,214.47 647.02,215.12 647.26,214.32 647.50,214.38 647.74,213.99 647.98,214.29 648.23,214.27 648.47,213.93 648.71,213.85 648.95,213.16 649.19,213.61 649.43,213.03 649.68,213.68 649.92,213.05 650.16,212.58 650.40,212.17 650.64,212.15 650.88,211.15 651.13,210.75 651.37,210.79 651.61,210.61 651.85,209.89 652.09,209.14 652.33,208.19 652.58,207.35 652.82,205.88 653.06,205.41 653.30,204.61 653.54,203.57 653.78,201.47 654.02,201.17 654.27,200.32 654.51,200.40 654.75,200.51 654.99,200.20 655.23,201.64 655.47,202.68 655.72,202.70 655.96,204.46 656.20,205.89 656.44,205.87 656.68,207.21 656.92,208.12 657.17,208.94 657.41,210.02 657.65,210.93 657.89,210.71 658.13,211.53 658.37,211.68 658.62,212.17 658.86,212.41 659.10,212.18 659.34,213.18 659.58,212.76 659.82,213.24 660.06,213.43 660.31,213.50 660.55,213.73 660.79,214.85 661.03,214.93 661.27,214.97 661.51,214.42 661.76,215.26 662.00,214.59 662.24,214.92 662.48,214.93 662.72,214.61 662.96,215.31 663.21,215.26 663.45,215.04 663.69,214.36 663.93,215.15 664.17,215.50 664.41,215.41 664.66,214.78 664.90,215.45 665.14,214.93 665.38,214.66 665.62,214.60 665.86,214.79 666.10,215.32 666.35,214.34 666.59,214.80 666.83,214.69 667.07,214.49 667.31,214.70 667.55,214.99 667.80,215.20 668.04,215.56 668.28,215.05 668.52,215.29 668.76,214.56 669.00,214.92 669.25,214.89 669.49,214.75 669.73,214.58 669.97,215.13 670.21,214.94 670.45,215.63 670.70,215.34 670.94,215.31 671.18,215.38 671.42,215.05 671.66,215.03 671.90,214.58 672.14,214.62 672.39,214.63 672.63,214.67 672.87,214.92 673.11,214.73 673.35,215.14 673.59,214.74 673.84,214.25 674.08,213.97 674.32,213.78 674.56,214.29 674.80,214.29 675.04,214.08 675.29,214.19 675.53,213.44 675.77,213.52 676.01,213.62 676.25,213.01 676.49,213.14 676.74,213.75 676.98,212.83 677.22,212.91 677.46,213.11 677.70,211.80 677.94,211.31 678.18,211.57 678.43,210.76 678.67,211.08 678.91,210.06 679.15,208.93 679.39,208.77 679.63,207.74 679.88,206.46 680.12,205.86 680.36,205.17 680.60,203.70 680.84,202.55 681.08,201.51 681.33,199.78 681.57,198.43 681.81,197.51 682.05,197.08 682.29,196.00 682.53,196.52 682.78,196.39 683.02,197.20 683.26,198.31 683.50,199.59 683.74,200.60 683.98,202.72 684.22,203.43 684.47,204.76 684.71,205.93 684.95,207.21 685.19,207.37 685.43,209.17 685.67,209.45 685.92,209.66 686.16,210.98 686.40,210.68 686.64,211.72 686.88,211.87 687.12,212.32 687.37,212.22 687.61,213.17 687.85,212.77 688.09,213.16 688.33,213.66 688.57,213.15 688.82,213.49 689.06,213.99 689.30,214.43 689.54,213.69 689.78,214.29 690.02,213.94 690.26,214.59 690.51,214.13 690.75,214.83 690.99,214.51 691.23,214.81 691.47,215.06 691.71,214.60 691.96,214.43 692.20,215.34 692.44,215.49 692.68,215.23 692.92,215.13 693.16,215.68 693.41,215.09 693.65,214.94 693.89,214.87 694.13,215.51 694.37,215.62 694.61,215.54 694.86,215.27 695.10,214.92 695.34,215.06 695.58,215.37 695.82,214.83 696.06,215.59 696.30,215.75 696.55,215.31 696.79,215.78 697.03,215.32 697.27,214.83 697.51,215.55 697.75,215.30 698.00,215.42 698.24,214.88 698.48,215.73 698.72,215.70 698.96,215.73 699.20,216.13 699.45,215.91 699.69,215.71 699.93,215.06 700.17,215.07 700.41,215.41 700.65,215.28 700.90,215.78 701.14,215.79 701.38,215.74 701.62,215.74 701.86,216.03 702.10,215.52 702.34,215.65 702.59,215.27 702.83,215.94 703.07,215.95 703.31,215.59 703.55,215.91 703.79,216.14 704.04,215.52 704.28,215.87 704.52,215.41 704.76,215.35 705.00,215.28 705.24,215.89 705.49,215.75 705.73,215.73 705.97,216.07 706.21,215.40 706.45,215.83 706.69,215.77 706.94,215.12 707.18,215.57 707.42,215.39 707.66,215.37 707.90,215.85 708.14,215.55 708.38,215.22 708.63,215.40 708.87,215.32 709.11,215.98 709.35,215.30 709.59,215.83 709.83,215.45 710.08,215.07 710.32,215.61 710.56,215.29 710.80,215.34 711.04,215.39 711.28,215.25 711.53,214.87 711.77,215.39 712.01,215.00 712.25,216.04 712.49,215.57 712.73,215.39 712.98,215.76 713.22,215.44 713.46,215.11 713.70,215.29 713.94,215.41 714.18,215.50 714.42,215.66 714.67,215.98 714.91,214.81 715.15,215.61 715.39,215.25 715.63,215.04 715.87,215.85 716.12,215.44 716.36,214.96 716.60,215.50 716.84,216.09 717.08,215.50 717.32,215.91 717.57,215.62 717.81,215.53 718.05,214.71 718.29,215.35 718.53,215.85 718.77,215.15 719.02,215.39 719.26,215.29 719.50,215.17 719.74,214.96 719.98,215.32 720.22,215.81 720.46,215.15 720.71,216.14 720.95,215.56 721.19,215.97 721.43,215.44 721.67,215.67 721.91,216.06 722.16,216.33 722.40,216.13 722.64,215.78 722.88,215.29 723.12,214.80 723.36,215.65 723.61,214.95 723.85,215.37 724.09,214.95 724.33,215.09 724.57,215.20 724.81,215.74 725.06,215.52 725.30,214.68 725.54,215.27 725.78,214.51 726.02,214.82 726.26,214.56 726.50,214.65 726.75,215.13 726.99,214.93 727.23,214.98 727.47,214.92 727.71,215.12 727.95,214.68 728.20,214.51 728.44,214.72 728.68,215.11 728.92,214.90 729.16,214.81 729.40,214.91 729.65,214.59 729.89,214.94 730.13,214.88 730.37,215.17 730.61,215.00 730.85,214.39 731.10,214.51 731.34,215.08 731.58,215.17 731.82,215.08 732.06,214.65 732.30,214.13 732.54,214.84 732.79,214.91 733.03,214.26 733.27,214.59 733.51,214.65 733.75,214.25 733.99,213.71 734.24,214.36 734.48,214.38 734.72,214.63 734.96,213.85 735.20,213.93 735.44,214.20 735.69,213.34 735.93,213.94 736.17,213.46 736.41,213.21 736.65,213.28 736.89,213.11 737.14,213.99 737.38,212.89 737.62,213.65 737.86,213.41 738.10,212.70 738.34,212.83 738.58,213.06 738.83,212.37 739.07,212.72 739.31,212.12 739.55,212.83 739.79,211.86 740.03,212.64 740.28,211.74 740.52,211.91 740.76,211.80 741.00,212.77 741.24,212.29 741.48,212.81 741.73,212.92 741.97,212.99 742.21,212.85 742.45,212.55 742.69,212.53 742.93,212.83 743.18,213.10 743.42,212.89 743.66,213.57 743.90,213.48 744.14,214.04 744.38,213.52 744.62,214.02 744.87,213.37 745.11,213.96 745.35,213.88 745.59,214.31 745.83,214.64 746.07,213.87 746.32,214.81 746.56,213.97 746.80,213.73 747.04,214.23 747.28,214.44 747.52,213.76 747.77,214.11 748.01,214.14 748.25,213.95 748.49,213.77 748.73,214.70 748.97,214.04 749.22,214.11 749.46,213.96 749.70,214.23 749.94,214.15 750.18,214.39 750.42,215.22 750.66,214.98 750.91,215.21 751.15,214.50 751.39,214.66 751.63,214.71 751.87,215.23 752.11,214.96 752.36,214.94 752.60,215.22 752.84,215.50 753.08,215.75 753.32,215.67 753.56,215.09 753.81,215.59 754.05,215.76 754.29,215.25 754.53,215.46 754.77,215.13 755.01,214.96 755.26,215.30 755.50,214.72 755.74,215.58 755.98,215.61 756.22,215.93 756.46,215.70 756.70,214.82 756.95,215.79 757.19,215.03 757.43,215.69 757.67,215.00 757.91,214.96 758.15,215.09 758.40,215.40 758.64,215.26 758.88,215.63 759.12,214.96 759.36,214.54 759.60,215.52 759.85,215.08 760.09,215.77 760.33,215.70 760.57,215.46 760.81,215.62 761.05,215.30 761.30,216.02 761.54,216.04 761.78,215.41 762.02,216.04 762.26,215.79 762.50,215.91 762.74,215.54 762.99,215.92 763.23,215.91 763.47,215.62 763.71,215.43 763.95,216.06 764.19,215.16 764.44,215.65 764.68,215.46 764.92,214.91 765.16,214.88 765.40,215.08 765.64,214.95 765.89,215.21 766.13,215.43 766.37,215.12 766.61,215.90 766.85,216.11 767.09,215.87 767.34,215.19 767.58,215.82 767.82,215.07 768.06,215.08 768.30,214.94 768.54,215.58 768.78,215.76 769.03,215.49 769.27,215.43 769.51,214.93 769.75,215.91 769.99,215.10 770.23,215.01 770.48,215.26 770.72,215.39 770.96,215.51 771.20,215.10 771.44,215.59 771.68,215.58 771.93,215.69 772.17,214.75 772.41,215.67 772.65,215.75 772.89,215.51 773.13,214.87 773.38,214.78 773.62,214.74 773.86,214.86 774.10,215.32 774.34,215.93 774.58,215.28 774.82,215.85 775.07,215.92 775.31,215.51 775.55,215.52 775.79,215.12 776.03,215.67 776.27,214.82 776.52,215.40 776.76,215.44 777.00,215.04 777.24,214.79 777.48,215.39 777.72,215.53 777.97,215.05 778.21,214.91 778.45,215.18 778.69,214.70 778.93,215.58 779.17,215.70 779.42,215.67 779.66,215.59 779.90,215.10 780.14,214.90"/>
<polyline fill="none" stroke="#ff1cff" stroke-width="1.1" stroke-linejoin="round" points="441.90,247.19 442.14,247.33 442.38,247.17 442.62,247.95 442.87,247.57 443.11,246.89 443.35,246.98 443.59,246.65 443.83,247.74 444.07,247.04 444.32,247.75 444.56,247.18 444.80,247.50 445.04,247.05 445.28,247.56 445.52,247.01 445.77,247.47 446.01,247.38 446.25,247.18 446.49,247.25 446.73,247.10 446.97,247.89 447.22,247.42 447.46,248.07 447.70,247.71 447.94,247.84 448.18,248.12 448.42,247.98 448.66,247.91 448.91,247.53 449.15,247.32 449.39,247.99 449.63,247.95 449.87,247.66 450.11,247.98 450.36,248.24 450.60,248.61 450.84,247.91 451.08,247.98 451.32,247.87 451.56,247.51 451.81,247.68 452.05,247.64 452.29,247.98 452.53,247.97 452.77,247.38 453.01,248.06 453.26,247.85 453.50,247.37 453.74,247.89 453.98,247.02 454.22,247.45 454.46,247.67 454.70,247.12 454.95,246.78 455.19,246.62 455.43,247.22 455.67,246.53 455.91,246.75 456.15,246.62 456.40,246.26 456.64,246.21 456.88,246.46 457.12,245.43 457.36,245.42 457.60,245.00 457.85,244.18 458.09,244.35 458.33,243.85 458.57,242.71 458.81,242.49 459.05,241.33 459.30,241.18 459.54,240.02 459.78,238.76 460.02,237.50 460.26,237.04 460.50,236.81 460.74,236.68 460.99,237.45 461.23,238.11 461.47,239.35 461.71,240.11 461.95,241.03 462.19,242.12 462.44,242.67 462.68,243.89 462.92,244.66 463.16,244.67 463.40,245.08 463.64,245.33 463.89,245.89 464.13,246.22 464.37,246.21 464.61,246.18 464.85,247.35 465.09,247.66 465.34,247.47 465.58,246.95 465.82,247.99 466.06,247.27 466.30,247.94 466.54,247.57 466.78,248.17 467.03,248.69 467.27,248.52 467.51,248.08 467.75,248.54 467.99,247.80 468.23,247.95 468.48,247.75 468.72,248.24 468.96,247.81 469.20,248.51 469.44,248.75 469.68,249.12 469.93,248.39 470.17,249.11 470.41,248.66 470.65,248.95 470.89,248.73 471.13,249.24 471.38,248.74 471.62,249.66 471.86,248.80 472.10,248.66 472.34,248.83 472.58,249.06 472.82,248.60 473.07,248.53 473.31,248.35 473.55,248.90 473.79,248.63 474.03,249.03 474.27,248.81 474.52,248.77 474.76,248.50 475.00,248.52 475.24,248.45 475.48,248.69 475.72,249.32 475.97,249.43 476.21,249.26 476.45,248.74 476.69,249.21 476.93,248.85 477.17,249.66 477.42,249.65 477.66,249.16 477.90,249.79 478.14,249.41 478.38,249.46 478.62,249.99 478.86,250.11 479.11,249.40 479.35,249.01 479.59,249.75 479.83,250.33 480.07,250.22 480.31,249.26 480.56,250.09 480.80,249.56 481.04,250.06 481.28,250.25 481.52,249.45 481.76,250.22 482.01,250.19 482.25,249.66 482.49,249.89 482.73,250.25 482.97,250.07 483.21,249.84 483.46,250.23 483.70,250.54 483.94,250.12 484.18,250.30 484.42,249.76 484.66,250.04 484.90,249.25 485.15,249.26 485.39,250.01 485.63,249.20 485.87,249.84 486.11,249.45 486.35,249.37 486.60,249.67 486.84,249.94 487.08,249.53 487.32,250.25 487.56,249.62 487.80,249.45 488.05,249.65 488.29,250.32 488.53,249.51 488.77,249.45 489.01,249.85 489.25,249.43 489.50,250.16 489.74,249.91 489.98,249.52 490.22,249.33 490.46,250.43 490.70,249.47 490.94,250.11 491.19,249.61 491.43,249.98 491.67,249.93 491.91,249.88 492.15,250.08 492.39,250.23 492.64,250.47 492.88,250.02 493.12,249.99 493.36,249.94 493.60,250.03 493.84,250.61 494.09,250.57 494.33,250.54 494.57,249.46 494.81,249.66 495.05,250.16 495.29,250.17 495.54,249.67 495.78,249.28 496.02,250.29 496.26,250.47 496.50,249.79 496.74,249.61 496.98,249.51 497.23,249.98 497.47,250.37 497.71,249.92 497.95,249.50 498.19,250.25 498.43,249.40 498.68,249.96 498.92,249.63 499.16,249.17 499.40,249.72 499.64,249.31 499.88,249.36 500.13,249.51 500.37,250.35 500.61,250.10 500.85,249.64 501.09,250.56 501.33,250.27 501.58,249.53 501.82,250.32 502.06,249.50 502.30,249.53 502.54,250.42 502.78,249.65 503.02,249.30 503.27,250.24 503.51,249.84 503.75,250.27 503.99,249.88 504.23,250.39 504.47,250.40 504.72,250.17 504.96,249.33 505.20,249.48 505.44,249.82 505.68,249.77 505.92,249.79 506.17,249.59 506.41,249.41 506.65,250.12 506.89,249.81 507.13,249.50 507.37,250.30 507.62,249.69 507.86,249.80 508.10,249.64 508.34,250.15 508.58,249.62 508.82,249.51 509.06,249.56 509.31,249.37 509.55,249.81 509.79,249.25 510.03,249.59 510.27,249.04 510.51,249.29 510.76,249.42 511.00,249.25 511.24,248.76 511.48,249.43 511.72,249.61 511.96,249.65 512.21,249.64 512.45,249.31 512.69,248.89 512.93,249.27 513.17,249.62 513.41,249.03 513.66,248.21 513.90,248.46 514.14,248.17 514.38,248.58 514.62,248.24 514.86,247.94 515.10,248.21 515.35,247.79 515.59,247.78 515.83,246.36 516.07,246.90 516.31,245.73 516.55,245.54 516.80,245.07 517.04,244.57 517.28,243.18 517.52,242.25 517.76,240.94 518.00,239.80 518.25,238.92 518.49,237.66 518.73,235.75 518.97,233.60 519.21,232.54 519.45,231.94 519.70,232.19 519.94,232.74 520.18,233.19 520.42,233.73 520.66,234.92 520.90,236.80 521.14,238.53 521.39,239.19 521.63,241.02 521.87,241.57 522.11,242.64 522.35,243.98 522.59,244.18 522.84,244.82 523.08,246.09 523.32,246.04 523.56,246.56 523.80,247.20 524.04,247.60 524.29,247.98 524.53,247.66 524.77,247.90 525.01,248.92 525.25,248.94 525.49,248.23 525.74,248.36 525.98,249.29 526.22,248.76 526.46,249.05 526.70,249.52 526.94,248.99 527.18,248.96 527.43,248.93 527.67,248.82 527.91,249.19 528.15,249.37 528.39,248.86 528.63,249.25 528.88,249.29 529.12,249.25 529.36,249.68 529.60,248.90 529.84,249.56 530.08,249.19 530.33,249.70 530.57,249.48 530.81,249.51 531.05,248.85 531.29,249.85 531.53,250.18 531.78,249.71 532.02,249.85 532.26,249.38 532.50,249.53 532.74,249.79 532.98,249.03 533.22,248.99 533.47,249.99 533.71,249.27 533.95,249.79 534.19,249.56 534.43,249.83 534.67,249.61 534.92,249.80 535.16,249.54 535.40,248.75 535.64,248.82 535.88,248.91 536.12,249.07 536.37,249.10 536.61,249.38 536.85,248.33 537.09,248.15 537.33,248.49 537.57,248.46 537.82,248.48 538.06,247.80 538.30,247.51 538.54,247.22 538.78,247.75 539.02,248.14 539.26,247.63 539.51,246.98 539.75,246.48 539.99,246.74 540.23,245.84 540.47,245.10 540.71,245.19 540.96,244.61 541.20,243.68 541.44,243.01 541.68,242.32 541.92,241.76 542.16,241.77 542.41,240.14 542.65,238.69 542.89,238.05 543.13,235.52 543.37,233.62 543.61,231.97 543.86,229.26 544.10,225.73 544.34,221.70 544.58,218.58 544.82,214.40 545.06,209.20 545.30,205.23 545.55,200.37 545.79,196.09 546.03,192.93 546.27,191.43 546.51,192.53 546.75,194.87 547.00,197.97 547.24,202.61 547.48,207.26 547.72,212.18 547.96,216.22 548.20,220.95 548.45,224.60 548.69,227.50 548.93,230.41 549.17,232.90 549.41,234.96 549.65,236.13 549.90,237.99 550.14,238.99 550.38,239.72 550.62,241.47 550.86,241.71 551.10,241.75 551.34,242.72 551.59,243.15 551.83,243.37 552.07,243.20 552.31,244.21 552.55,244.07 552.79,244.19 553.04,244.03 553.28,243.65 553.52,243.56 553.76,243.13 554.00,243.14 554.24,242.71 554.49,242.44 554.73,243.22 554.97,243.09 555.21,243.48 555.45,243.78 555.69,244.12 555.94,245.02 556.18,245.78 556.42,246.03 556.66,246.36 556.90,247.31 557.14,247.86 557.38,248.53 557.63,247.64 557.87,248.12 558.11,249.10 558.35,248.55 558.59,248.61 558.83,248.60 559.08,249.60 559.32,248.99 559.56,250.14 559.80,250.05 560.04,250.30 560.28,249.76 560.53,249.82 560.77,250.17 561.01,250.18 561.25,250.14 561.49,250.47 561.73,249.95 561.98,249.80 562.22,249.81 562.46,250.42 562.70,249.98 562.94,249.72 563.18,249.94 563.42,250.06 563.67,250.41 563.91,250.11 564.15,250.04 564.39,250.95 564.63,250.34 564.87,250.15 565.12,250.92 565.36,250.15 565.60,250.73 565.84,250.60 566.08,250.78 566.32,250.54 566.57,250.45 566.81,250.43 567.05,251.12 567.29,251.23 567.53,250.98 567.77,250.41 568.02,251.43 568.26,251.11 568.50,250.24 568.74,250.35 568.98,251.35 569.22,250.52 569.46,251.22 569.71,251.03 569.95,250.59 570.19,250.20 570.43,250.53 570.67,251.40 570.91,251.08 571.16,250.94 571.40,251.17 571.64,251.03 571.88,251.77 572.12,251.69 572.36,250.74 572.61,251.09 572.85,251.45 573.09,251.64 573.33,250.73 573.57,251.01 573.81,251.76 574.06,251.59 574.30,251.36 574.54,251.77 574.78,251.42 575.02,251.08 575.26,251.54 575.50,250.93 575.75,251.71 575.99,251.56 576.23,250.92 576.47,251.19 576.71,250.66 576.95,251.43 577.20,251.51 577.44,250.95 577.68,250.64 577.92,251.25 578.16,250.66 578.40,250.81 578.65,250.36 578.89,249.84 579.13,250.01 579.37,249.79 579.61,249.90 579.85,249.81 580.10,249.60 580.34,249.56 580.58,248.76 580.82,248.51 581.06,248.20 581.30,248.06 581.54,247.92 581.79,248.03 582.03,247.83 582.27,246.90 582.51,245.60 582.75,245.69 582.99,244.47 583.24,243.88 583.48,242.37 583.72,241.59 583.96,241.21 584.20,240.46 584.44,240.40 584.69,240.62 584.93,241.01 585.17,242.14 585.41,243.30 585.65,244.05 585.89,244.69 586.14,245.59 586.38,245.85 586.62,246.87 586.86,247.63 587.10,248.05 587.34,247.96 587.58,249.07 587.83,248.54 588.07,248.87 588.31,249.86 588.55,249.72 588.79,249.84 589.03,250.21 589.28,250.59 589.52,250.87 589.76,250.73 590.00,250.74 590.24,250.42 590.48,251.36 590.73,250.73 590.97,251.41 591.21,251.43 591.45,251.41 591.69,251.38 591.93,251.24 592.18,251.31 592.42,251.71 592.66,251.46 592.90,251.78 593.14,251.91 593.38,251.43 593.62,251.55 593.87,251.73 594.11,252.17 594.35,251.92 594.59,251.47 594.83,251.96 595.07,251.95 595.32,251.10 595.56,252.25 595.80,252.50 596.04,252.12 596.28,252.08 596.52,252.70 596.77,251.80 597.01,252.04 597.25,252.68 597.49,251.77 597.73,251.80 597.97,252.55 598.22,252.20 598.46,252.56 598.70,252.20 598.94,252.23 599.18,251.89 599.42,251.73 599.66,252.03 599.91,251.83 600.15,252.03 600.39,251.67 600.63,252.16 600.87,252.32 601.11,252.31 601.36,251.80 601.60,252.09 601.84,252.60 602.08,252.59 602.32,251.98 602.56,252.58 602.81,252.08 603.05,251.61 603.29,251.68 603.53,252.46 603.77,251.64 604.01,251.86 604.26,252.43 604.50,252.72 604.74,252.58 604.98,251.86 605.22,252.28 605.46,252.49 605.70,252.53 605.95,252.66 606.19,251.85 606.43,251.95 606.67,252.51 606.91,252.00 607.15,252.80 607.40,252.00 607.64,252.10 607.88,252.40 608.12,251.71 608.36,252.72 608.60,252.35 608.85,251.50 609.09,251.34 609.33,252.48 609.57,251.52 609.81,251.72 610.05,251.50 610.30,251.60 610.54,251.75 610.78,251.83 611.02,252.69 611.26,252.05 611.50,252.75 611.74,251.83 611.99,252.53 612.23,252.24 612.47,252.01 612.71,252.54 612.95,252.93 613.19,252.36 613.44,252.38 613.68,252.87 613.92,251.93 614.16,251.67 614.40,251.98 614.64,252.89 614.89,252.59 615.13,252.59 615.37,252.18 615.61,252.29 615.85,252.85 616.09,252.19 616.34,252.13 616.58,251.81 616.82,252.46 617.06,252.42 617.30,251.93 617.54,252.19 617.78,252.76 618.03,252.57 618.27,252.14 618.51,251.68 618.75,251.83 618.99,252.37 619.23,251.67 619.48,251.65 619.72,252.03 619.96,252.30 620.20,252.17 620.44,252.32 620.68,251.94 620.93,251.87 621.17,252.38 621.41,252.27 621.65,252.28 621.89,251.88 622.13,252.86 622.38,252.19 622.62,252.92 622.86,252.27 623.10,252.85 623.34,252.52 623.58,252.09 623.82,252.21 624.07,252.48 624.31,252.18 624.55,251.99 624.79,253.02 625.03,252.49 625.27,252.52 625.52,252.11 625.76,252.94 626.00,252.81 626.24,252.80 626.48,252.57 626.72,252.47 626.97,252.58 627.21,251.96 627.45,252.84 627.69,252.31 627.93,251.61 628.17,251.77 628.42,251.66 628.66,252.14 628.90,252.64 629.14,251.85 629.38,252.29 629.62,252.25 629.86,251.77 630.11,252.49 630.35,252.27 630.59,251.94 630.83,252.51 631.07,251.58 631.31,252.39 631.56,251.73 631.80,251.90 632.04,251.97 632.28,251.83 632.52,252.12 632.76,251.83 633.01,250.99 633.25,250.83 633.49,251.48 633.73,250.78 633.97,250.62 634.21,250.17 634.46,250.07 634.70,249.95 634.94,249.55 635.18,250.04 635.42,248.82 635.66,249.08 635.90,248.23 636.15,248.05 636.39,248.45 636.63,247.63 636.87,247.55 637.11,248.58 637.35,247.71 637.60,248.15 637.84,249.34 638.08,249.54 638.32,249.95 638.56,250.02 638.80,250.04 639.05,250.58 639.29,250.31 639.53,250.71 639.77,250.26 640.01,250.55 640.25,251.47 640.50,251.43 640.74,250.88 640.98,251.32 641.22,251.29 641.46,251.30 641.70,251.07 641.94,251.52 642.19,251.79 642.43,251.43 642.67,251.66 642.91,250.64 643.15,251.15 643.39,251.62 643.64,251.60 643.88,251.31 644.12,251.55 644.36,250.91 644.60,251.21 644.84,251.17 645.09,250.91 645.33,251.50 645.57,251.19 645.81,251.39 646.05,251.12 646.29,251.07 646.54,250.74 646.78,251.00 647.02,251.38 647.26,251.15 647.50,250.60 647.74,251.02 647.98,250.18 648.23,250.66 648.47,250.90 648.71,250.86 648.95,249.85 649.19,249.69 649.43,249.40 649.68,249.08 649.92,249.71 650.16,249.03 650.40,248.38 650.64,248.73 650.88,248.58 651.13,247.42 651.37,247.63 651.61,246.70 651.85,246.42 652.09,245.21 652.33,244.67 652.58,243.47 652.82,242.90 653.06,241.88 653.30,240.76 653.54,239.77 653.78,238.36 654.02,237.70 654.27,237.32 654.51,237.10 654.75,236.56 654.99,236.79 655.23,238.32 655.47,238.87 655.72,240.21 655.96,240.71 656.20,242.26 656.44,242.97 656.68,244.47 656.92,245.79 657.17,246.28 657.41,246.41 657.65,247.54 657.89,247.51 658.13,248.36 658.37,249.06 658.62,249.10 658.86,249.68 659.10,249.85 659.34,249.77 659.58,250.13 659.82,250.07 660.06,250.60 660.31,250.97 660.55,250.42 660.79,251.00 661.03,250.77 661.27,250.26 661.51,250.44 661.76,250.64 662.00,251.03 662.24,251.28 662.48,250.92 662.72,251.31 662.96,250.79 663.21,250.99 663.45,250.76 663.69,250.56 663.93,250.83 664.17,251.37 664.41,250.81 664.66,250.45 664.90,250.90 665.14,250.87 665.38,251.61 665.62,251.23 665.86,251.55 666.10,251.17 666.35,251.47 666.59,251.09 666.83,251.24 667.07,251.80 667.31,251.43 667.55,251.52 667.80,251.42 668.04,251.90 668.28,252.20 668.52,251.83 668.76,251.85 669.00,251.64 669.25,251.39 669.49,251.94 669.73,251.28 669.97,251.65 670.21,252.24 670.45,251.93 670.70,252.01 670.94,251.73 671.18,252.04 671.42,252.11 671.66,251.72 671.90,252.02 672.14,251.78 672.39,252.30 672.63,252.10 672.87,251.26 673.11,251.65 673.35,251.41 673.59,250.71 673.84,250.99 674.08,251.47 674.32,250.38 674.56,251.02 674.80,251.24 675.04,250.61 675.29,250.52 675.53,250.82 675.77,250.14 676.01,251.05 676.25,250.75 676.49,250.59 676.74,250.22 676.98,249.79 677.22,249.26 677.46,249.65 677.70,249.20 677.94,248.89 678.18,247.78 678.43,247.65 678.67,247.32 678.91,247.29 679.15,246.29 679.39,245.78 679.63,244.55 679.88,244.45 680.12,242.72 680.36,242.45 680.60,240.67 680.84,239.66 681.08,238.32 681.33,237.04 681.57,235.23 681.81,234.37 682.05,233.34 682.29,232.64 682.53,233.08 682.78,233.04 683.02,233.89 683.26,234.93 683.50,237.14 683.74,238.00 683.98,238.74 684.22,240.65 684.47,242.06 684.71,242.47 684.95,243.45 685.19,244.59 685.43,245.18 685.67,246.64 685.92,246.25 686.16,247.65 686.40,247.26 686.64,247.79 686.88,248.23 687.12,249.09 687.37,248.60 687.61,249.81 687.85,249.38 688.09,249.53 688.33,249.92 688.57,250.86 688.82,250.83 689.06,251.27 689.30,251.08 689.54,251.16 689.78,250.85 690.02,250.37 690.26,250.89 690.51,251.44 690.75,251.00 690.99,250.69 691.23,251.58 691.47,251.27 691.71,252.11 691.96,251.46 692.20,251.21 692.44,251.75 692.68,251.36 692.92,251.65 693.16,251.53 693.41,251.31 693.65,251.80 693.89,251.89 694.13,251.43 694.37,251.35 694.61,251.66 694.86,252.22 695.10,252.47 695.34,252.09 695.58,251.80 695.82,252.59 696.06,251.91 696.30,252.12 696.55,252.33 696.79,252.52 697.03,252.37 697.27,252.66 697.51,252.22 697.75,251.90 698.00,252.35 698.24,252.35 698.48,251.85 698.72,252.44 698.96,252.47 699.20,252.00 699.45,252.36 699.69,252.20 699.93,252.55 700.17,252.39 700.41,252.11 700.65,251.66 700.90,251.62 701.14,251.70 701.38,251.74 701.62,252.07 701.86,252.30 702.10,251.55 702.34,252.38 702.59,252.17 702.83,252.43 703.07,251.33 703.31,251.75 703.55,251.58 703.79,251.73 704.04,251.48 704.28,252.06 704.52,252.17 704.76,251.69 705.00,251.87 705.24,251.80 705.49,251.75 705.73,252.18 705.97,251.51 706.21,251.66 706.45,251.94 706.69,251.99 706.94,251.53 707.18,252.56 707.42,252.42 707.66,251.93 707.90,252.10 708.14,252.20 708.38,251.68 708.63,252.63 708.87,252.63 709.11,251.56 709.35,251.93 709.59,252.27 709.83,252.03 710.08,251.78 710.32,252.36 710.56,251.66 710.80,252.43 711.04,251.35 711.28,252.22 711.53,252.37 711.77,252.55 712.01,252.24 712.25,251.84 712.49,252.13 712.73,252.00 712.98,252.39 713.22,251.62 713.46,251.63 713.70,251.81 713.94,252.13 714.18,252.05 714.42,251.89 714.67,252.01 714.91,252.23 715.15,252.28 715.39,252.23 715.63,251.73 715.87,252.20 716.12,251.66 716.36,251.98 716.60,252.23 716.84,251.39 717.08,252.12 717.32,251.54 717.57,251.67 717.81,251.97 718.05,251.70 718.29,251.68 718.53,251.99 718.77,252.54 719.02,252.78 719.26,252.80 719.50,252.07 719.74,252.16 719.98,251.60 720.22,251.86 720.46,251.87 720.71,252.12 720.95,252.29 721.19,251.67 721.43,251.66 721.67,251.70 721.91,252.21 722.16,251.94 722.40,252.17 722.64,252.07 722.88,251.64 723.12,252.05 723.36,252.11 723.61,251.37 723.85,251.33 724.09,252.02 724.33,251.42 724.57,251.73 724.81,251.18 725.06,252.21 725.30,251.42 725.54,252.32 725.78,252.01 726.02,251.78 726.26,251.61 726.50,252.35 726.75,251.73 726.99,251.90 727.23,252.08 727.47,251.30 727.71,251.43 727.95,251.83 728.20,251.75 728.44,251.57 728.68,251.61 728.92,251.39 729.16,252.14 729.40,251.46 729.65,251.55 729.89,252.02 730.13,251.40 730.37,251.57 730.61,251.79 730.85,252.23 731.10,251.66 731.34,251.99 731.58,251.69 731.82,252.00 732.06,252.20 732.30,252.33 732.54,251.44 732.79,251.94 733.03,251.71 733.27,251.03 733.51,251.38 733.75,251.50 733.99,251.01 734.24,250.96 734.48,250.93 734.72,250.66 734.96,251.12 735.20,250.51 735.44,251.11 735.69,250.46 735.93,250.33 736.17,250.67 736.41,250.36 736.65,251.23 736.89,250.79 737.14,250.11 737.38,250.80 737.62,249.96 737.86,249.80 738.10,250.18 738.34,249.66 738.58,249.35 738.83,249.70 739.07,248.90 739.31,249.76 739.55,248.86 739.79,249.59 740.03,249.57 740.28,248.69 740.52,249.39 740.76,249.05 741.00,249.24 741.24,248.79 741.48,249.36 741.73,249.39 741.97,249.15 742.21,248.97 742.45,248.78 742.69,249.13 742.93,249.38 743.18,250.05 743.42,249.30 743.66,250.11 743.90,250.18 744.14,250.08 744.38,249.72 744.62,250.53 744.87,250.13 745.11,249.86 745.35,250.50 745.59,250.42 745.83,250.13 746.07,250.09 746.32,250.10 746.56,250.62 746.80,250.91 747.04,250.46 747.28,251.55 747.52,250.89 747.77,251.11 748.01,250.98 748.25,250.63 748.49,251.88 748.73,251.44 748.97,251.33 749.22,250.98 749.46,251.82 749.70,251.25 749.94,251.61 750.18,251.43 750.42,251.63 750.66,252.13 750.91,252.20 751.15,251.76 751.39,251.89 751.63,251.58 751.87,251.44 752.11,251.86 752.36,251.91 752.60,251.96 752.84,251.47 753.08,252.31 753.32,251.98 753.56,252.00 753.81,251.75 754.05,252.40 754.29,251.42 754.53,251.89 754.77,251.54 755.01,251.82 755.26,251.45 755.50,252.16 755.74,251.55 755.98,252.05 756.22,251.85 756.46,252.19 756.70,251.74 756.95,251.59 757.19,252.11 757.43,251.87 757.67,252.07 757.91,251.70 758.15,252.67 758.40,251.72 758.64,251.50 758.88,252.41 759.12,252.11 759.36,252.06 759.60,251.92 759.85,252.16 760.09,252.03 760.33,252.63 760.57,252.64 760.81,252.20 761.05,251.93 761.30,252.27 761.54,252.16 761.78,252.19 762.02,251.85 762.26,251.82 762.50,252.03 762.74,251.90 762.99,252.07 763.23,251.20 763.47,251.44 763.71,251.87 763.95,251.94 764.19,251.52 764.44,251.39 764.68,251.27 764.92,251.62 765.16,251.84 765.40,252.02 765.64,252.31 765.89,251.57 766.13,252.14 766.37,251.78 766.61,252.11 766.85,252.65 767.09,251.89 767.34,252.60 767.58,251.94 767.82,251.80 768.06,252.02 768.30,252.65 768.54,252.62 768.78,252.10 769.03,252.79 769.27,252.00 769.51,252.70 769.75,252.11 769.99,251.99 770.23,251.72 770.48,251.55 770.72,252.11 770.96,251.83 771.20,252.15 771.44,252.06 771.68,252.29 771.93,252.56 772.17,251.86 772.41,251.87 772.65,252.01 772.89,252.33 773.13,252.54 773.38,252.03 773.62,252.30 773.86,252.33 774.10,252.77 774.34,252.20 774.58,252.09 774.82,252.41 775.07,252.75 775.31,252.85 775.55,252.58 775.79,252.46 776.03,252.29 776.27,252.74 776.52,252.85 776.76,252.08 777.00,252.61 777.24,251.71 777.48,252.34 777.72,251.63 777.97,252.43 778.21,252.62 778.45,252.44 778.69,251.79 778.93,252.32 779.17,252.40 779.42,252.40 779.66,251.58 779.90,251.83 780.14,251.66"/>
<polyline fill="none" stroke="#8a8a8a" stroke-width="1.0" stroke-linejoin="round" points="441.90,279.57 442.14,279.31 442.38,279.38 442.62,280.25 442.87,280.32 443.11,279.83 443.35,279.77 443.59,279.99 443.83,280.24 444.07,280.56 444.32,279.81 444.56,280.65 444.80,280.26 445.04,280.07 445.28,280.10 445.52,280.87 445.77,280.81 446.01,280.67 446.25,280.70 446.49,281.01 446.73,280.28 446.97,280.25 447.22,281.00 447.46,280.74 447.70,280.18 447.94,280.71 448.18,280.36 448.42,280.92 448.66,280.88 448.91,280.67 449.15,280.36 449.39,280.90 449.63,280.39 449.87,280.50 450.11,280.96 450.36,280.72 450.60,279.99 450.84,280.08 451.08,280.15 451.32,280.14 451.56,280.44 451.81,280.87 452.05,280.42 452.29,280.81 452.53,280.70 452.77,280.68 453.01,280.70 453.26,281.48 453.50,280.60 453.74,281.04 453.98,280.58 454.22,280.50 454.46,280.67 454.70,280.79 454.95,281.23 455.19,281.46 455.43,281.21 455.67,281.18 455.91,280.34 456.15,280.42 456.40,280.37 456.64,280.70 456.88,280.84 457.12,280.64 457.36,280.05 457.60,280.07 457.85,279.52 458.09,278.99 458.33,278.49 458.57,278.59 458.81,277.52 459.05,277.85 459.30,277.47 459.54,276.78 459.78,276.29 460.02,274.96 460.26,274.72 460.50,274.62 460.74,273.20 460.99,273.13 461.23,273.73 461.47,273.52 461.71,273.39 461.95,273.92 462.19,274.49 462.44,275.57 462.68,276.47 462.92,276.32 463.16,277.31 463.40,277.91 463.64,278.82 463.89,278.75 464.13,279.88 464.37,280.43 464.61,280.80 464.85,280.66 465.09,281.10 465.34,281.30 465.58,281.22 465.82,281.03 466.06,280.95 466.30,281.24 466.54,280.96 466.78,281.30 467.03,282.12 467.27,282.25 467.51,281.89 467.75,282.69 467.99,282.19 468.23,282.15 468.48,282.94 468.72,282.85 468.96,282.73 469.20,282.38 469.44,282.57 469.68,282.21 469.93,283.24 470.17,282.62 470.41,282.98 470.65,283.30 470.89,283.49 471.13,282.63 471.38,283.07 471.62,283.04 471.86,283.15 472.10,282.98 472.34,283.33 472.58,282.90 472.82,282.87 473.07,283.13 473.31,282.98 473.55,283.35 473.79,283.60 474.03,283.61 474.27,283.09 474.52,284.07 474.76,283.49 475.00,283.99 475.24,283.93 475.48,283.64 475.72,283.51 475.97,283.18 476.21,283.63 476.45,283.46 476.69,283.23 476.93,283.36 477.17,283.53 477.42,284.15 477.66,284.22 477.90,283.85 478.14,284.30 478.38,284.62 478.62,284.40 478.86,284.34 479.11,283.68 479.35,284.27 479.59,284.96 479.83,283.99 480.07,283.82 480.31,283.73 480.56,284.09 480.80,284.28 481.04,284.58 481.28,284.54 481.52,284.65 481.76,284.42 482.01,284.20 482.25,283.89 482.49,284.05 482.73,284.12 482.97,284.77 483.21,284.82 483.46,284.54 483.70,284.63 483.94,284.26 484.18,284.37 484.42,284.21 484.66,285.13 484.90,284.28 485.15,284.32 485.39,284.94 485.63,284.56 485.87,284.29 486.11,284.56 486.35,284.29 486.60,284.70 486.84,284.07 487.08,284.24 487.32,285.00 487.56,285.12 487.80,284.92 488.05,284.94 488.29,284.41 488.53,284.60 488.77,284.40 489.01,284.17 489.25,284.29 489.50,284.15 489.74,284.56 489.98,284.99 490.22,284.83 490.46,284.66 490.70,285.27 490.94,284.92 491.19,285.29 491.43,285.36 491.67,285.49 491.91,284.81 492.15,284.87 492.39,284.67 492.64,284.72 492.88,284.83 493.12,284.83 493.36,285.54 493.60,285.29 493.84,285.99 494.09,285.39 494.33,285.66 494.57,285.46 494.81,284.88 495.05,285.19 495.29,284.80 495.54,285.22 495.78,285.61 496.02,285.14 496.26,285.12 496.50,285.85 496.74,285.46 496.98,285.86 497.23,284.76 497.47,285.61 497.71,285.13 497.95,285.44 498.19,285.02 498.43,284.85 498.68,284.99 498.92,284.83 499.16,285.59 499.40,285.77 499.64,285.24 499.88,285.08 500.13,285.46 500.37,285.02 500.61,286.00 500.85,285.65 501.09,285.79 501.33,285.64 501.58,286.00 501.82,285.97 502.06,286.00 502.30,285.98 502.54,285.67 502.78,286.06 503.02,286.13 503.27,285.84 503.51,286.05 503.75,285.82 503.99,285.46 504.23,286.23 504.47,285.64 504.72,285.98 504.96,285.75 505.20,286.28 505.44,285.61 505.68,286.02 505.92,286.49 506.17,286.17 506.41,286.63 506.65,286.28 506.89,285.97 507.13,286.31 507.37,285.70 507.62,286.56 507.86,286.15 508.10,286.27 508.34,286.72 508.58,286.77 508.82,286.07 509.06,286.47 509.31,286.59 509.55,286.08 509.79,286.19 510.03,286.23 510.27,286.77 510.51,286.28 510.76,286.55 511.00,285.99 511.24,286.77 511.48,285.96 511.72,286.45 511.96,285.69 512.21,286.36 512.45,285.98 512.69,285.91 512.93,286.11 513.17,286.08 513.41,285.93 513.66,285.96 513.90,285.89 514.14,285.75 514.38,286.19 514.62,286.04 514.86,285.58 515.10,285.93 515.35,285.29 515.59,285.62 515.83,285.33 516.07,285.31 516.31,285.01 516.55,285.08 516.80,284.83 517.04,284.42 517.28,283.04 517.52,283.12 517.76,282.50 518.00,281.51 518.25,281.69 518.49,280.70 518.73,279.97 518.97,278.16 519.21,277.47 519.45,276.70 519.70,275.66 519.94,274.24 520.18,274.01 520.42,273.65 520.66,272.95 520.90,273.68 521.14,273.92 521.39,274.97 521.63,275.98 521.87,276.47 522.11,277.15 522.35,278.11 522.59,279.51 522.84,280.65 523.08,281.34 523.32,282.02 523.56,282.37 523.80,282.78 524.04,283.35 524.29,283.99 524.53,284.40 524.77,284.54 525.01,285.07 525.25,285.08 525.49,285.71 525.74,285.51 525.98,285.15 526.22,285.88 526.46,285.54 526.70,285.73 526.94,285.72 527.18,285.12 527.43,285.26 527.67,285.66 527.91,285.87 528.15,285.59 528.39,286.13 528.63,286.49 528.88,286.40 529.12,286.38 529.36,286.31 529.60,286.02 529.84,286.29 530.08,286.18 530.33,286.51 530.57,286.32 530.81,286.58 531.05,286.36 531.29,286.49 531.53,286.45 531.78,286.40 532.02,287.04 532.26,286.11 532.50,286.69 532.74,286.10 532.98,286.98 533.22,286.50 533.47,286.49 533.71,286.46 533.95,286.54 534.19,287.10 534.43,286.79 534.67,286.71 534.92,286.64 535.16,286.49 535.40,286.57 535.64,286.86 535.88,286.23 536.12,286.56 536.37,285.76 536.61,285.80 536.85,285.75 537.09,286.69 537.33,286.69 537.57,286.46 537.82,285.62 538.06,285.40 538.30,286.05 538.54,285.77 538.78,286.13 539.02,286.25 539.26,285.91 539.51,285.59 539.75,285.08 539.99,285.25 540.23,284.47 540.47,284.41 540.71,284.87 540.96,284.29 541.20,284.71 541.44,284.50 541.68,284.08 541.92,283.11 542.16,282.27 542.41,281.87 542.65,281.80 542.89,281.63 543.13,280.67 543.37,279.80 543.61,279.17 543.86,278.78 544.10,277.56 544.34,275.96 544.58,273.87 544.82,272.68 545.06,270.75 545.30,267.69 545.55,265.92 545.79,262.04 546.03,259.96 546.27,255.45 546.51,252.61 546.75,248.86 547.00,245.47 547.24,244.47 547.48,243.08 547.72,243.76 547.96,245.73 548.20,248.41 548.45,252.32 548.69,255.27 548.93,258.96 549.17,262.33 549.41,265.85 549.65,267.78 549.90,270.19 550.14,273.01 550.38,274.68 550.62,275.06 550.86,277.09 551.10,277.75 551.34,278.72 551.59,279.54 551.83,280.59 552.07,280.52 552.31,281.63 552.55,281.61 552.79,282.27 553.04,283.01 553.28,282.46 553.52,283.04 553.76,283.17 554.00,282.71 554.24,282.73 554.49,283.11 554.73,282.77 554.97,283.18 555.21,282.75 555.45,282.83 555.69,283.79 555.94,283.55 556.18,283.99 556.42,284.75 556.66,284.53 556.90,284.98 557.14,285.17 557.38,285.66 557.63,285.31 557.87,285.33 558.11,285.99 558.35,285.86 558.59,285.91 558.83,285.67 559.08,285.92 559.32,285.87 559.56,286.51 559.80,286.36 560.04,287.46 560.28,286.89 560.53,286.90 560.77,287.51 561.01,287.15 561.25,287.50 561.49,287.06 561.73,287.15 561.98,287.04 562.22,287.22 562.46,286.86 562.70,286.75 562.94,287.43 563.18,287.13 563.42,287.59 563.67,286.85 563.91,286.79 564.15,287.83 564.39,287.40 564.63,287.96 564.87,287.86 565.12,287.82 565.36,287.31 565.60,287.58 565.84,287.54 566.08,287.36 566.32,288.35 566.57,288.08 566.81,287.85 567.05,287.55 567.29,287.52 567.53,288.31 567.77,288.10 568.02,287.99 568.26,287.96 568.50,287.71 568.74,287.49 568.98,288.26 569.22,287.91 569.46,287.44 569.71,287.14 569.95,287.38 570.19,287.74 570.43,287.74 570.67,287.38 570.91,287.94 571.16,287.79 571.40,288.20 571.64,287.57 571.88,287.91 572.12,287.38 572.36,287.53 572.61,287.69 572.85,287.86 573.09,287.84 573.33,288.30 573.57,287.41 573.81,287.55 574.06,288.31 574.30,288.16 574.54,288.51 574.78,288.38 575.02,288.61 575.26,288.08 575.50,288.76 575.75,288.64 575.99,288.44 576.23,287.85 576.47,288.17 576.71,287.61 576.95,288.09 577.20,287.26 577.44,287.14 577.68,287.26 577.92,287.77 578.16,287.63 578.40,287.83 578.65,287.05 578.89,287.88 579.13,288.14 579.37,288.12 579.61,288.00 579.85,287.70 580.10,287.29 580.34,286.95 580.58,287.76 580.82,287.09 581.06,286.57 581.30,286.44 581.54,286.55 581.79,286.32 582.03,285.93 582.27,286.03 582.51,285.57 582.75,284.97 582.99,284.41 583.24,284.30 583.48,283.79 583.72,282.52 583.96,282.46 584.20,282.07 584.44,281.38 584.69,280.58 584.93,280.12 585.17,278.61 585.41,278.37 585.65,277.47 585.89,278.21 586.14,278.28 586.38,278.74 586.62,278.60 586.86,279.81 587.10,279.92 587.34,280.64 587.58,281.33 587.83,282.12 588.07,283.14 588.31,283.74 588.55,284.20 588.79,284.90 589.03,285.68 589.28,285.13 589.52,285.66 589.76,286.33 590.00,286.19 590.24,286.71 590.48,286.55 590.73,286.67 590.97,286.60 591.21,287.35 591.45,286.52 591.69,286.94 591.93,287.64 592.18,287.15 592.42,287.45 592.66,287.35 592.90,287.70 593.14,288.59 593.38,288.35 593.62,287.98 593.87,288.60 594.11,288.27 594.35,287.71 594.59,287.94 594.83,288.00 595.07,288.30 595.32,288.77 595.56,289.07 595.80,288.45 596.04,288.72 596.28,288.77 596.52,288.77 596.77,288.20 597.01,288.73 597.25,288.46 597.49,288.39 597.73,288.87 597.97,288.45 598.22,288.77 598.46,288.66 598.70,288.92 598.94,289.03 599.18,288.49 599.42,289.24 599.66,289.10 599.91,288.49 600.15,288.25 600.39,288.49 600.63,289.06 600.87,289.29 601.11,288.23 601.36,289.08 601.60,288.82 601.84,288.63 602.08,289.35 602.32,289.26 602.56,289.02 602.81,289.19 603.05,289.00 603.29,289.06 603.53,289.26 603.77,289.27 604.01,288.36 604.26,288.78 604.50,288.80 604.74,289.16 604.98,289.46 605.22,288.44 605.46,289.33 605.70,289.01 605.95,288.86 606.19,289.57 606.43,289.71 606.67,289.45 606.91,289.04 607.15,289.58 607.40,289.06 607.64,289.82 607.88,289.84 608.12,289.32 608.36,289.16 608.60,288.98 608.85,289.10 609.09,289.56 609.33,289.83 609.57,289.32 609.81,289.33 610.05,289.68 610.30,289.58 610.54,289.20 610.78,289.60 611.02,289.70 611.26,288.72 611.50,289.61 611.74,289.52 611.99,288.66 612.23,288.81 612.47,289.31 612.71,289.76 612.95,289.61 613.19,289.87 613.44,289.54 613.68,290.16 613.92,289.16 614.16,289.53 614.40,289.41 614.64,289.18 614.89,289.57 615.13,288.92 615.37,289.21 615.61,289.07 615.85,289.09 616.09,289.67 616.34,289.54 616.58,288.67 616.82,289.22 617.06,288.90 617.30,289.03 617.54,289.11 617.78,289.14 618.03,289.05 618.27,289.69 618.51,289.01 618.75,289.16 618.99,289.44 619.23,289.34 619.48,289.85 619.72,290.07 619.96,289.90 620.20,289.26 620.44,289.93 620.68,289.80 620.93,289.31 621.17,289.29 621.41,289.41 621.65,288.88 621.89,288.94 622.13,288.63 622.38,288.89 622.62,288.76 622.86,289.43 623.10,289.80 623.34,289.88 623.58,289.42 623.82,288.83 624.07,289.27 624.31,288.54 624.55,289.47 624.79,288.62 625.03,288.83 625.27,288.63 625.52,288.99 625.76,289.24 626.00,288.78 626.24,289.68 626.48,288.64 626.72,289.58 626.97,289.67 627.21,289.24 627.45,289.01 627.69,288.92 627.93,289.32 628.17,288.45 628.42,289.19 628.66,288.69 628.90,289.54 629.14,288.57 629.38,288.48 629.62,289.27 629.86,289.12 630.11,289.62 630.35,288.88 630.59,288.91 630.83,288.91 631.07,288.99 631.31,288.63 631.56,289.12 631.80,288.64 632.04,289.05 632.28,288.24 632.52,288.84 632.76,288.77 633.01,288.06 633.25,287.85 633.49,288.18 633.73,288.88 633.97,288.62 634.21,288.77 634.46,288.48 634.70,287.84 634.94,287.88 635.18,287.95 635.42,287.40 635.66,287.88 635.90,287.48 636.15,286.93 636.39,287.60 636.63,286.87 636.87,286.79 637.11,287.16 637.35,286.99 637.60,285.71 637.84,285.86 638.08,285.41 638.32,286.15 638.56,285.38 638.80,285.33 639.05,285.39 639.29,286.49 639.53,286.33 639.77,286.67 640.01,287.20 640.25,287.69 640.50,287.79 640.74,286.94 640.98,287.08 641.22,288.37 641.46,287.78 641.70,287.64 641.94,288.52 642.19,287.74 642.43,287.96 642.67,287.93 642.91,288.19 643.15,288.22 643.39,288.54 643.64,288.32 643.88,288.64 644.12,288.18 644.36,287.84 644.60,287.88 644.84,288.83 645.09,288.04 645.33,288.47 645.57,288.29 645.81,288.19 646.05,287.65 646.29,287.54 646.54,287.67 646.78,288.08 647.02,288.42 647.26,288.37 647.50,288.51 647.74,288.00 647.98,288.19 648.23,287.86 648.47,288.31 648.71,287.32 648.95,287.46 649.19,287.76 649.43,286.98 649.68,287.24 649.92,288.26 650.16,287.95 650.40,287.04 650.64,287.60 650.88,286.87 651.13,287.17 651.37,286.61 651.61,286.65 651.85,286.41 652.09,286.23 652.33,285.57 652.58,285.73 652.82,285.66 653.06,285.19 653.30,284.74 653.54,284.03 653.78,283.19 654.02,282.73 654.27,282.35 654.51,280.82 654.75,280.58 654.99,279.35 655.23,278.55 655.47,277.39 655.72,277.61 655.96,276.70 656.20,276.14 656.44,276.32 656.68,276.60 656.92,276.30 657.17,277.51 657.41,277.40 657.65,279.20 657.89,279.60 658.13,280.37 658.37,281.09 658.62,281.88 658.86,282.32 659.10,283.09 659.34,284.28 659.58,284.60 659.82,284.89 660.06,285.18 660.31,286.06 660.55,286.39 660.79,286.04 661.03,286.82 661.27,286.76 661.51,286.48 661.76,286.42 662.00,287.01 662.24,287.12 662.48,287.82 662.72,287.43 662.96,287.61 663.21,287.56 663.45,288.17 663.69,287.69 663.93,288.03 664.17,287.62 664.41,288.20 664.66,287.87 664.90,287.61 665.14,287.70 665.38,288.45 665.62,288.39 665.86,287.83 666.10,287.34 666.35,288.06 666.59,287.75 666.83,288.37 667.07,288.54 667.31,288.52 667.55,288.83 667.80,288.07 668.04,288.62 668.28,289.16 668.52,288.03 668.76,289.14 669.00,288.48 669.25,288.78 669.49,289.19 669.73,288.31 669.97,288.84 670.21,288.12 670.45,288.99 670.70,289.01 670.94,288.61 671.18,288.29 671.42,288.99 671.66,288.47 671.90,288.21 672.14,289.00 672.39,288.91 672.63,288.34 672.87,288.77 673.11,288.40 673.35,288.76 673.59,288.86 673.84,288.80 674.08,288.56 674.32,288.59 674.56,288.41 674.80,288.38 675.04,287.95 675.29,288.01 675.53,287.58 675.77,287.55 676.01,288.04 676.25,287.53 676.49,287.63 676.74,287.36 676.98,288.18 677.22,288.26 677.46,288.25 677.70,287.56 677.94,287.58 678.18,287.93 678.43,287.39 678.67,287.88 678.91,287.58 679.15,287.14 679.39,286.78 679.63,286.67 679.88,286.65 680.12,286.19 680.36,285.37 680.60,285.49 680.84,285.22 681.08,284.47 681.33,283.28 681.57,283.24 681.81,282.07 682.05,281.06 682.29,280.01 682.53,280.05 682.78,278.90 683.02,277.69 683.26,276.63 683.50,274.93 683.74,274.66 683.98,273.76 684.22,273.15 684.47,272.48 684.71,273.19 684.95,273.31 685.19,274.24 685.43,274.98 685.67,275.92 685.92,276.61 686.16,278.14 686.40,279.97 686.64,280.22 686.88,281.82 687.12,282.29 687.37,282.48 687.61,283.49 687.85,284.12 688.09,284.22 688.33,284.50 688.57,285.35 688.82,285.39 689.06,286.30 689.30,286.00 689.54,286.29 689.78,287.15 690.02,287.54 690.26,287.16 690.51,287.59 690.75,287.74 690.99,287.76 691.23,287.53 691.47,287.61 691.71,287.28 691.96,287.60 692.20,287.72 692.44,287.60 692.68,288.01 692.92,287.87 693.16,288.05 693.41,288.44 693.65,288.17 693.89,288.51 694.13,288.62 694.37,288.59 694.61,288.91 694.86,288.74 695.10,288.50 695.34,288.36 695.58,288.16 695.82,288.33 696.06,288.48 696.30,289.15 696.55,288.60 696.79,288.84 697.03,289.13 697.27,289.27 697.51,288.71 697.75,288.29 698.00,288.82 698.24,288.34 698.48,288.76 698.72,288.47 698.96,288.41 699.20,288.25 699.45,288.80 699.69,288.49 699.93,288.68 700.17,288.85 700.41,288.37 700.65,288.54 700.90,288.60 701.14,288.42 701.38,289.03 701.62,288.97 701.86,288.96 702.10,289.19 702.34,289.60 702.59,289.49 702.83,288.64 703.07,288.63 703.31,288.78 703.55,288.84 703.79,288.74 704.04,289.76 704.28,289.51 704.52,288.87 704.76,288.73 705.00,288.58 705.24,289.34 705.49,289.32 705.73,288.69 705.97,288.75 706.21,288.57 706.45,288.64 706.69,288.83 706.94,288.94 707.18,289.02 707.42,288.91 707.66,288.32 707.90,288.64 708.14,288.80 708.38,288.62 708.63,288.61 708.87,288.70 709.11,289.08 709.35,289.17 709.59,289.53 709.83,288.65 710.08,289.04 710.32,288.37 710.56,289.12 710.80,289.00 711.04,289.02 711.28,288.95 711.53,288.97 711.77,288.47 712.01,289.25 712.25,288.98 712.49,289.14 712.73,288.88 712.98,288.59 713.22,288.84 713.46,288.76 713.70,289.36 713.94,289.60 714.18,288.74 714.42,289.30 714.67,288.97 714.91,289.10 715.15,288.67 715.39,288.36 715.63,288.74 715.87,289.31 716.12,288.91 716.36,289.38 716.60,289.09 716.84,288.78 717.08,288.99 717.32,288.67 717.57,288.75 717.81,289.23 718.05,288.70 718.29,289.39 718.53,288.68 718.77,289.21 719.02,289.06 719.26,289.28 719.50,288.44 719.74,288.73 719.98,289.22 720.22,289.37 720.46,289.61 720.71,289.72 720.95,289.48 721.19,289.39 721.43,289.19 721.67,288.58 721.91,288.35 722.16,289.40 722.40,288.84 722.64,289.13 722.88,289.28 723.12,288.19 723.36,288.55 723.61,288.88 723.85,288.84 724.09,288.84 724.33,289.12 724.57,288.71 724.81,288.50 725.06,288.88 725.30,288.47 725.54,288.37 725.78,288.93 726.02,288.91 726.26,288.80 726.50,289.19 726.75,288.96 726.99,288.44 727.23,288.40 727.47,288.27 727.71,288.96 727.95,288.90 728.20,289.14 728.44,288.42 728.68,289.38 728.92,289.03 729.16,288.45 729.40,288.34 729.65,288.93 729.89,288.50 730.13,288.53 730.37,288.57 730.61,288.42 730.85,289.30 731.10,289.21 731.34,288.77 731.58,288.24 731.82,288.28 732.06,288.86 732.30,289.00 732.54,288.34 732.79,288.02 733.03,288.02 733.27,287.99 733.51,288.14 733.75,288.88 733.99,288.51 734.24,287.81 734.48,287.95 734.72,288.04 734.96,287.89 735.20,288.57 735.44,288.17 735.69,288.39 735.93,288.08 736.17,288.46 736.41,288.33 736.65,287.61 736.89,288.65 737.14,288.47 737.38,287.92 737.62,288.43 737.86,287.79 738.10,287.63 738.34,287.67 738.58,287.41 738.83,286.99 739.07,287.43 739.31,287.55 739.55,287.16 739.79,287.22 740.03,287.47 740.28,286.62 740.52,287.18 740.76,286.45 741.00,286.39 741.24,286.12 741.48,286.03 741.73,286.38 741.97,286.95 742.21,286.24 742.45,286.73 742.69,286.06 742.93,286.17 743.18,286.51 743.42,286.72 743.66,286.58 743.90,286.12 744.14,286.53 744.38,286.93 744.62,286.35 744.87,286.70 745.11,286.31 745.35,287.00 745.59,287.29 745.83,287.20 746.07,287.47 746.32,287.41 746.56,287.42 746.80,287.10 747.04,287.74 747.28,287.21 747.52,287.41 747.77,287.05 748.01,287.10 748.25,287.82 748.49,288.09 748.73,288.33 748.97,287.36 749.22,288.00 749.46,288.08 749.70,287.74 749.94,287.87 750.18,288.12 750.42,287.95 750.66,288.46 750.91,287.94 751.15,287.90 751.39,288.12 751.63,288.99 751.87,288.38 752.11,288.59 752.36,288.66 752.60,287.85 752.84,288.64 753.08,288.95 753.32,288.47 753.56,288.67 753.81,288.71 754.05,288.87 754.29,289.06 754.53,288.64 754.77,288.09 755.01,288.00 755.26,288.33 755.50,288.95 755.74,288.71 755.98,288.75 756.22,288.17 756.46,288.52 756.70,288.59 756.95,288.69 757.19,289.13 757.43,288.79 757.67,289.17 757.91,289.27 758.15,288.86 758.40,288.48 758.64,288.79 758.88,288.97 759.12,289.36 759.36,288.33 759.60,289.19 759.85,288.57 760.09,288.53 760.33,288.47 760.57,289.45 760.81,288.70 761.05,289.20 761.30,289.26 761.54,288.33 761.78,289.13 762.02,288.40 762.26,288.87 762.50,288.59 762.74,288.82 762.99,288.97 763.23,288.92 763.47,288.44 763.71,288.60 763.95,288.64 764.19,288.59 764.44,288.53 764.68,288.54 764.92,289.16 765.16,288.75 765.40,289.12 765.64,289.18 765.89,288.62 766.13,288.76 766.37,289.49 766.61,289.50 766.85,288.76 767.09,288.85 767.34,288.73 767.58,289.00 767.82,288.45 768.06,288.84 768.30,288.30 768.54,288.76 768.78,288.56 769.03,289.09 769.27,288.36 769.51,288.89 769.75,289.17 769.99,288.87 770.23,288.40 770.48,288.56 770.72,288.63 770.96,288.24 771.20,288.79 771.44,288.45 771.68,288.40 771.93,288.67 772.17,289.10 772.41,289.00 772.65,288.31 772.89,288.38 773.13,289.15 773.38,288.44 773.62,288.78 773.86,289.14 774.10,288.58 774.34,288.76 774.58,289.07 774.82,289.07 775.07,288.62 775.31,288.77 775.55,289.55 775.79,289.69 776.03,289.41 776.27,288.98 776.52,289.61 776.76,289.00 777.00,288.85 777.24,289.27 777.48,288.54 777.72,289.21 777.97,288.75 778.21,288.44 778.45,288.45 778.69,288.85 778.93,289.02 779.17,288.72 779.42,288.38 779.66,289.37 779.90,288.79 780.14,289.09"/>
<path d="M461.10,80.60 L465.00,85.20 L461.10,89.80 L457.20,85.20Z" fill="#0a0af0"/>
<path d="M520.20,75.80 L524.10,80.40 L520.20,85.00 L516.30,80.40Z" fill="#0a0af0"/>
<path d="M547.00,37.30 L550.90,41.90 L547.00,46.50 L543.10,41.90Z" fill="#0a0af0"/>
<path d="M557.20,87.20 L561.10,91.80 L557.20,96.40 L553.30,91.80Z" fill="#0a0af0"/>
<path d="M585.50,82.40 L589.40,87.00 L585.50,91.60 L581.60,87.00Z" fill="#0a0af0"/>
<path d="M637.80,89.70 L641.70,94.30 L637.80,98.90 L633.90,94.30Z" fill="#0a0af0"/>
<path d="M655.50,77.70 L659.40,82.30 L655.50,86.90 L651.60,82.30Z" fill="#0a0af0"/>
<path d="M683.40,73.80 L687.30,78.40 L683.40,83.00 L679.50,78.40Z" fill="#0a0af0"/>
<circle cx="539.1" cy="131.6" r="2.7" fill="#ff1010"/>
<circle cx="557.6" cy="133.2" r="2.7" fill="#ff1010"/>
<circle cx="604.5" cy="137" r="2.7" fill="#ff1010"/>
<circle cx="698.6" cy="136.8" r="2.7" fill="#ff1010"/>
<path d="M573.40,203.50 L580.20,203.50 L576.80,210.30Z" fill="none" stroke="#22c022" stroke-width="1"/>
<path d="M668.60,203.50 L675.40,203.50 L672.00,210.30Z" fill="none" stroke="#22c022" stroke-width="1"/>
<path d="M441.9,22 L779.5,22" stroke="#666" stroke-width="1.4" fill="none"/>
<path d="M441.9,22 L441.9,293.3" stroke="#666" stroke-width="1.4" fill="none"/>
<path d="M779.4,22 L779.4,293.3" stroke="#000" stroke-width="1.2" fill="none"/>
<path d="M441.5,293.3 L780,293.3" stroke="#000" stroke-width="1.3" fill="none"/>
<line x1="466.06" y1="293.3" x2="466.06" y2="287.80" stroke="#000" stroke-width="1.2"/>
<text x="466.06" y="313.9" class="tick" text-anchor="middle">20</text>
<line x1="490.22" y1="293.3" x2="490.22" y2="290.50" stroke="#000" stroke-width="1.2"/>
<line x1="514.38" y1="293.3" x2="514.38" y2="287.80" stroke="#000" stroke-width="1.2"/>
<text x="514.38" y="313.9" class="tick" text-anchor="middle">30</text>
<line x1="538.54" y1="293.3" x2="538.54" y2="290.50" stroke="#000" stroke-width="1.2"/>
<line x1="562.70" y1="293.3" x2="562.70" y2="287.80" stroke="#000" stroke-width="1.2"/>
<text x="562.70" y="313.9" class="tick" text-anchor="middle">40</text>
<line x1="586.86" y1="293.3" x2="586.86" y2="290.50" stroke="#000" stroke-width="1.2"/>
<line x1="611.02" y1="293.3" x2="611.02" y2="287.80" stroke="#000" stroke-width="1.2"/>
<text x="611.02" y="313.9" class="tick" text-anchor="middle">50</text>
<line x1="635.18" y1="293.3" x2="635.18" y2="290.50" stroke="#000" stroke-width="1.2"/>
<line x1="659.34" y1="293.3" x2="659.34" y2="287.80" stroke="#000" stroke-width="1.2"/>
<text x="659.34" y="313.9" class="tick" text-anchor="middle">60</text>
<line x1="683.50" y1="293.3" x2="683.50" y2="290.50" stroke="#000" stroke-width="1.2"/>
<line x1="707.66" y1="293.3" x2="707.66" y2="287.80" stroke="#000" stroke-width="1.2"/>
<text x="707.66" y="313.9" class="tick" text-anchor="middle">70</text>
<line x1="731.82" y1="293.3" x2="731.82" y2="290.50" stroke="#000" stroke-width="1.2"/>
<line x1="755.98" y1="293.3" x2="755.98" y2="287.80" stroke="#000" stroke-width="1.2"/>
<text x="755.98" y="313.9" class="tick" text-anchor="middle">80</text>
<text transform="translate(409.6,17.0) scale(0.93,1)" class="lab">b</text>
<text transform="translate(419.5,205.4) rotate(-90)" class="ylab">Intensity (a.u.)</text>
<text x="589.5" y="344.5" class="xlab">2<tspan class="serif" dx="-0.6" style="font-size:18px">&#952;</tspan><tspan dx="5" class="serif" style="font-size:17px">(&#176;)</tspan></text>
<text x="778.3" y="96.1" class="rl" fill="#8c1414" text-anchor="end">CuNiCo-8-2</text>
<text x="778.3" y="130.8" class="rl" fill="#ff1c1c" text-anchor="end">CuNiCo-5-5</text>
<text x="778.3" y="168.8" class="rl" fill="#1e1ef8" text-anchor="end">CuNiCo-2-8</text>
<text x="768.8" y="201.2" class="rl" fill="#22d022" text-anchor="end">NiCo</text>
<text x="771" y="237" class="rl" fill="#ff1cff" text-anchor="end">CuCo</text>
<text x="770.5" y="272.3" class="rl" fill="#808080" text-anchor="end">Co<tspan font-size="11.5" dy="4">3</tspan><tspan dy="-4">O</tspan><tspan font-size="11.5" dy="4">4</tspan></text>
</svg>
</body></html>
